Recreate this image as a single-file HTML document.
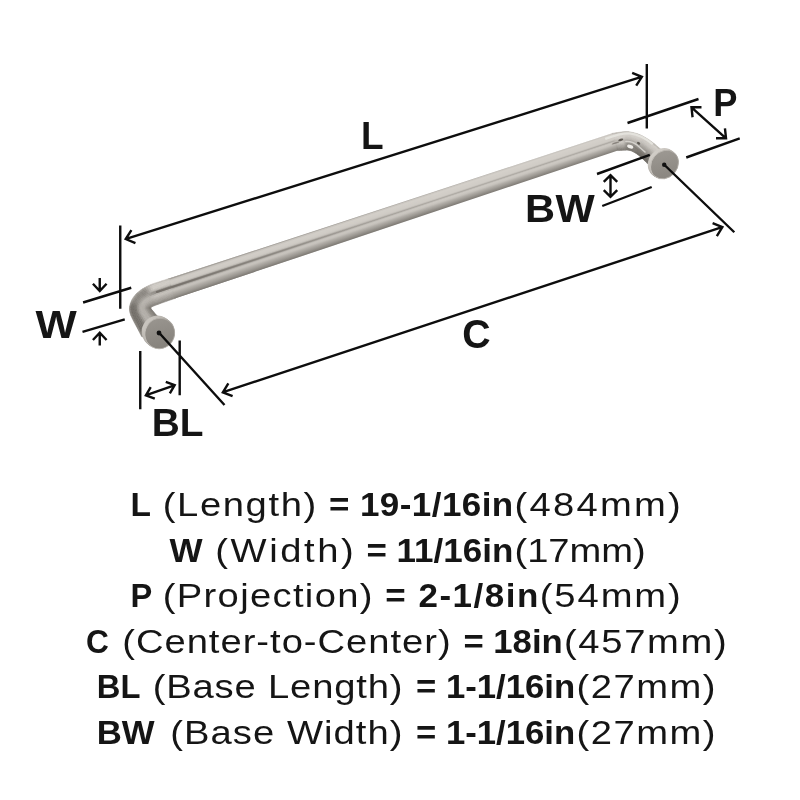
<!DOCTYPE html>
<html><head><meta charset="utf-8"><title>Dimensions</title>
<style>
html,body{margin:0;padding:0;background:#fff;}
body{width:800px;height:800px;overflow:hidden;}
svg{display:block;will-change:transform}
text{font-family:"Liberation Sans",sans-serif;fill:#151515;white-space:pre}
.b{font-weight:bold;font-size:33.5px}
.r{font-weight:normal;font-size:33.5px}
.lab{font-weight:bold;font-size:38.5px}
</style></head><body>
<svg width="800" height="800" viewBox="0 0 800 800">
<rect width="800" height="800" fill="#fff"/>
<defs><linearGradient id="gR" gradientUnits="userSpaceOnUse" x1="390" y1="206.10" x2="396.13" y2="224.61"><stop offset="0.000" stop-color="#a5a19b"/><stop offset="0.025" stop-color="#b6b2ac"/><stop offset="0.050" stop-color="#c8c4be"/><stop offset="0.075" stop-color="#ccc8c2"/><stop offset="0.100" stop-color="#d1cdc7"/><stop offset="0.125" stop-color="#d4d0ca"/><stop offset="0.150" stop-color="#d4d0ca"/><stop offset="0.175" stop-color="#d3cfc9"/><stop offset="0.200" stop-color="#d3cfc9"/><stop offset="0.225" stop-color="#d2cec8"/><stop offset="0.250" stop-color="#d2cec8"/><stop offset="0.275" stop-color="#d1cdc7"/><stop offset="0.300" stop-color="#d1cdc7"/><stop offset="0.325" stop-color="#d1cdc7"/><stop offset="0.350" stop-color="#d0ccc6"/><stop offset="0.375" stop-color="#cbc7c1"/><stop offset="0.400" stop-color="#c2beb8"/><stop offset="0.425" stop-color="#b3afa9"/><stop offset="0.450" stop-color="#aeaaa4"/><stop offset="0.475" stop-color="#bdb9b3"/><stop offset="0.500" stop-color="#c6c2bc"/><stop offset="0.525" stop-color="#cdc9c3"/><stop offset="0.550" stop-color="#ccc8c2"/><stop offset="0.575" stop-color="#cac6c0"/><stop offset="0.600" stop-color="#c8c4be"/><stop offset="0.625" stop-color="#c5c1bb"/><stop offset="0.650" stop-color="#bfbbb5"/><stop offset="0.675" stop-color="#bab6b0"/><stop offset="0.700" stop-color="#b4b0aa"/><stop offset="0.725" stop-color="#afaba5"/><stop offset="0.750" stop-color="#aba7a1"/><stop offset="0.775" stop-color="#a6a29c"/><stop offset="0.800" stop-color="#a29e98"/><stop offset="0.825" stop-color="#9d9993"/><stop offset="0.850" stop-color="#98948e"/><stop offset="0.875" stop-color="#938f89"/><stop offset="0.900" stop-color="#8e8a84"/><stop offset="0.925" stop-color="#89857f"/><stop offset="0.950" stop-color="#84807a"/><stop offset="0.975" stop-color="#7f7b75"/><stop offset="1.000" stop-color="#7a7670"/></linearGradient><linearGradient id="gL" gradientUnits="userSpaceOnUse" x1="390" y1="206.10" x2="396.13" y2="224.61"><stop offset="0.000" stop-color="#a5a19b"/><stop offset="0.025" stop-color="#b8b4ae"/><stop offset="0.050" stop-color="#c6c2bc"/><stop offset="0.075" stop-color="#c9c5bf"/><stop offset="0.100" stop-color="#cdc9c3"/><stop offset="0.125" stop-color="#d0ccc6"/><stop offset="0.150" stop-color="#cfcbc5"/><stop offset="0.175" stop-color="#cfcbc5"/><stop offset="0.200" stop-color="#cecac4"/><stop offset="0.225" stop-color="#cecac4"/><stop offset="0.250" stop-color="#cdc9c3"/><stop offset="0.275" stop-color="#ccc8c2"/><stop offset="0.300" stop-color="#c7c3bd"/><stop offset="0.325" stop-color="#bcb8b2"/><stop offset="0.350" stop-color="#b1ada7"/><stop offset="0.375" stop-color="#a09c96"/><stop offset="0.400" stop-color="#8d8983"/><stop offset="0.425" stop-color="#7a7670"/><stop offset="0.450" stop-color="#84807a"/><stop offset="0.475" stop-color="#96928c"/><stop offset="0.500" stop-color="#a8a49e"/><stop offset="0.525" stop-color="#b4b0aa"/><stop offset="0.550" stop-color="#c1bdb7"/><stop offset="0.575" stop-color="#c5c1bb"/><stop offset="0.600" stop-color="#c4c0ba"/><stop offset="0.625" stop-color="#c3bfb9"/><stop offset="0.650" stop-color="#c0bcb6"/><stop offset="0.675" stop-color="#bcb8b2"/><stop offset="0.700" stop-color="#b7b3ad"/><stop offset="0.725" stop-color="#b3afa9"/><stop offset="0.750" stop-color="#afaba5"/><stop offset="0.775" stop-color="#aba7a1"/><stop offset="0.800" stop-color="#a8a49e"/><stop offset="0.825" stop-color="#a4a09a"/><stop offset="0.850" stop-color="#a09c96"/><stop offset="0.875" stop-color="#9c9892"/><stop offset="0.900" stop-color="#98948e"/><stop offset="0.925" stop-color="#938f89"/><stop offset="0.950" stop-color="#8d8983"/><stop offset="0.975" stop-color="#88847e"/><stop offset="1.000" stop-color="#827e78"/></linearGradient><linearGradient id="gF" gradientUnits="userSpaceOnUse" x1="168" y1="0" x2="613" y2="0"><stop offset="0" stop-color="#fff"/><stop offset="0.12" stop-color="#ccc"/><stop offset="0.35" stop-color="#555"/><stop offset="0.6" stop-color="#000"/></linearGradient><mask id="mF" maskUnits="userSpaceOnUse" x="0" y="0" width="800" height="800"><rect width="800" height="800" fill="url(#gF)"/></mask></defs><polygon points="168,278.83 613,133.05 618.70,150.27 174.55,298.62" fill="url(#gR)"/><polygon points="168,278.83 613,133.05 618.70,150.27 174.55,298.62" fill="url(#gL)" mask="url(#mF)"/>
<g stroke-width="0.5">
<polygon points="169.0,278.5 166.8,279.2 167.2,280.7 169.5,279.9" fill="#c1bdb7" stroke="#c1bdb7"/><polygon points="169.5,279.9 167.2,280.7 167.7,282.1 169.9,281.3" fill="#cecac4" stroke="#cecac4"/><polygon points="169.9,281.3 167.7,282.1 168.1,283.5 170.4,282.7" fill="#cfcbc5" stroke="#cfcbc5"/><polygon points="170.4,282.7 168.1,283.5 168.6,284.9 170.9,284.2" fill="#cdc9c3" stroke="#cdc9c3"/><polygon points="170.9,284.2 168.6,284.9 169.1,286.3 171.3,285.6" fill="#bebab4" stroke="#bebab4"/><polygon points="171.3,285.6 169.1,286.3 169.5,287.7 171.8,287.0" fill="#938f89" stroke="#938f89"/><polygon points="171.8,287.0 169.5,287.7 170.0,289.1 172.3,288.4" fill="#8e8a84" stroke="#8e8a84"/><polygon points="172.3,288.4 170.0,289.1 170.5,290.6 172.7,289.8" fill="#bab6b0" stroke="#bab6b0"/><polygon points="172.7,289.8 170.5,290.6 170.9,292.0 173.2,291.2" fill="#c4c0ba" stroke="#c4c0ba"/><polygon points="173.2,291.2 170.9,292.0 171.4,293.4 173.7,292.6" fill="#bbb7b1" stroke="#bbb7b1"/><polygon points="173.7,292.6 171.4,293.4 171.9,294.8 174.1,294.0" fill="#afaba5" stroke="#afaba5"/><polygon points="174.1,294.0 171.9,294.8 172.3,296.2 174.6,295.5" fill="#a5a19b" stroke="#a5a19b"/><polygon points="174.6,295.5 172.3,296.2 172.8,297.6 175.1,296.9" fill="#99958f" stroke="#99958f"/><polygon points="175.1,296.9 172.8,297.6 173.3,299.0 175.5,298.3" fill="#8a8680" stroke="#8a8680"/><polygon points="166.8,279.2 164.5,280.0 165.0,281.4 167.2,280.7" fill="#c1bdb7" stroke="#c1bdb7"/><polygon points="167.2,280.7 165.0,281.4 165.4,282.8 167.7,282.1" fill="#cecac4" stroke="#cecac4"/><polygon points="167.7,282.1 165.4,282.8 165.9,284.2 168.1,283.5" fill="#cfcbc5" stroke="#cfcbc5"/><polygon points="168.1,283.5 165.9,284.2 166.4,285.6 168.6,284.9" fill="#cdc9c3" stroke="#cdc9c3"/><polygon points="168.6,284.9 166.4,285.6 166.8,287.1 169.1,286.3" fill="#bebab4" stroke="#bebab4"/><polygon points="169.1,286.3 166.8,287.1 167.3,288.5 169.5,287.7" fill="#938f89" stroke="#938f89"/><polygon points="169.5,287.7 167.3,288.5 167.8,289.9 170.0,289.1" fill="#8e8a84" stroke="#8e8a84"/><polygon points="170.0,289.1 167.8,289.9 168.2,291.3 170.5,290.6" fill="#bab6b0" stroke="#bab6b0"/><polygon points="170.5,290.6 168.2,291.3 168.7,292.7 170.9,292.0" fill="#c4c0ba" stroke="#c4c0ba"/><polygon points="170.9,292.0 168.7,292.7 169.1,294.1 171.4,293.4" fill="#bbb7b1" stroke="#bbb7b1"/><polygon points="171.4,293.4 169.1,294.1 169.6,295.5 171.9,294.8" fill="#afaba5" stroke="#afaba5"/><polygon points="171.9,294.8 169.6,295.5 170.1,297.0 172.3,296.2" fill="#a5a19b" stroke="#a5a19b"/><polygon points="172.3,296.2 170.1,297.0 170.5,298.4 172.8,297.6" fill="#99958f" stroke="#99958f"/><polygon points="172.8,297.6 170.5,298.4 171.0,299.8 173.3,299.0" fill="#8a8680" stroke="#8a8680"/><polygon points="164.5,280.0 162.2,280.7 162.7,282.1 165.0,281.4" fill="#c1bdb7" stroke="#c1bdb7"/><polygon points="165.0,281.4 162.7,282.1 163.2,283.5 165.4,282.8" fill="#cecac4" stroke="#cecac4"/><polygon points="165.4,282.8 163.2,283.5 163.6,285.0 165.9,284.2" fill="#cfcbc5" stroke="#cfcbc5"/><polygon points="165.9,284.2 163.6,285.0 164.1,286.4 166.4,285.6" fill="#cdc9c3" stroke="#cdc9c3"/><polygon points="166.4,285.6 164.1,286.4 164.6,287.8 166.8,287.1" fill="#bebab4" stroke="#bebab4"/><polygon points="166.8,287.1 164.6,287.8 165.0,289.2 167.3,288.5" fill="#938f89" stroke="#938f89"/><polygon points="167.3,288.5 165.0,289.2 165.5,290.6 167.8,289.9" fill="#8e8a84" stroke="#8e8a84"/><polygon points="167.8,289.9 165.5,290.6 166.0,292.0 168.2,291.3" fill="#bab6b0" stroke="#bab6b0"/><polygon points="168.2,291.3 166.0,292.0 166.4,293.5 168.7,292.7" fill="#c4c0ba" stroke="#c4c0ba"/><polygon points="168.7,292.7 166.4,293.5 166.9,294.9 169.1,294.1" fill="#bbb7b1" stroke="#bbb7b1"/><polygon points="169.1,294.1 166.9,294.9 167.4,296.3 169.6,295.5" fill="#afaba5" stroke="#afaba5"/><polygon points="169.6,295.5 167.4,296.3 167.8,297.7 170.1,297.0" fill="#a5a19b" stroke="#a5a19b"/><polygon points="170.1,297.0 167.8,297.7 168.3,299.1 170.5,298.4" fill="#99958f" stroke="#99958f"/><polygon points="170.5,298.4 168.3,299.1 168.7,300.5 171.0,299.8" fill="#8a8680" stroke="#8a8680"/><polygon points="162.2,280.7 160.0,281.5 160.5,282.9 162.7,282.1" fill="#c1bdb7" stroke="#c1bdb7"/><polygon points="162.7,282.1 160.5,282.9 160.9,284.3 163.2,283.5" fill="#cecac4" stroke="#cecac4"/><polygon points="163.2,283.5 160.9,284.3 161.4,285.7 163.6,285.0" fill="#cfcbc5" stroke="#cfcbc5"/><polygon points="163.6,285.0 161.4,285.7 161.9,287.1 164.1,286.4" fill="#cdc9c3" stroke="#cdc9c3"/><polygon points="164.1,286.4 161.9,287.1 162.3,288.5 164.6,287.8" fill="#bebab4" stroke="#bebab4"/><polygon points="164.6,287.8 162.3,288.5 162.8,290.0 165.0,289.2" fill="#938f89" stroke="#938f89"/><polygon points="165.0,289.2 162.8,290.0 163.3,291.4 165.5,290.6" fill="#8e8a84" stroke="#8e8a84"/><polygon points="165.5,290.6 163.3,291.4 163.8,292.8 166.0,292.0" fill="#bab6b0" stroke="#bab6b0"/><polygon points="166.0,292.0 163.8,292.8 164.2,294.2 166.4,293.5" fill="#c4c0ba" stroke="#c4c0ba"/><polygon points="166.4,293.5 164.2,294.2 164.7,295.6 166.9,294.9" fill="#bbb7b1" stroke="#bbb7b1"/><polygon points="166.9,294.9 164.7,295.6 165.2,297.0 167.4,296.3" fill="#afaba5" stroke="#afaba5"/><polygon points="167.4,296.3 165.2,297.0 165.6,298.5 167.8,297.7" fill="#a5a19b" stroke="#a5a19b"/><polygon points="167.8,297.7 165.6,298.5 166.1,299.9 168.3,299.1" fill="#99958f" stroke="#99958f"/><polygon points="168.3,299.1 166.1,299.9 166.6,301.3 168.7,300.5" fill="#8a8680" stroke="#8a8680"/><polygon points="160.0,281.5 157.7,282.2 158.2,283.6 160.5,282.9" fill="#c1bdb7" stroke="#c1bdb7"/><polygon points="160.5,282.9 158.2,283.6 158.7,285.0 160.9,284.3" fill="#cecac4" stroke="#cecac4"/><polygon points="160.9,284.3 158.7,285.0 159.2,286.4 161.4,285.7" fill="#cfcbc5" stroke="#cfcbc5"/><polygon points="161.4,285.7 159.2,286.4 159.6,287.9 161.9,287.1" fill="#cdc9c3" stroke="#cdc9c3"/><polygon points="161.9,287.1 159.6,287.9 160.1,289.3 162.3,288.5" fill="#bebab4" stroke="#bebab4"/><polygon points="162.3,288.5 160.1,289.3 160.6,290.7 162.8,290.0" fill="#938f89" stroke="#938f89"/><polygon points="162.8,290.0 160.6,290.7 161.1,292.1 163.3,291.4" fill="#8e8a84" stroke="#8e8a84"/><polygon points="163.3,291.4 161.1,292.1 161.5,293.5 163.8,292.8" fill="#bab6b0" stroke="#bab6b0"/><polygon points="163.8,292.8 161.5,293.5 162.0,295.0 164.2,294.2" fill="#c4c0ba" stroke="#c4c0ba"/><polygon points="164.2,294.2 162.0,295.0 162.5,296.4 164.7,295.6" fill="#bbb7b1" stroke="#bbb7b1"/><polygon points="164.7,295.6 162.5,296.4 163.0,297.8 165.2,297.0" fill="#afaba5" stroke="#afaba5"/><polygon points="165.2,297.0 163.0,297.8 163.4,299.2 165.6,298.5" fill="#a5a19b" stroke="#a5a19b"/><polygon points="165.6,298.5 163.4,299.2 163.9,300.6 166.1,299.9" fill="#99958f" stroke="#99958f"/><polygon points="166.1,299.9 163.9,300.6 164.4,302.1 166.6,301.3" fill="#8a8680" stroke="#8a8680"/><polygon points="157.7,282.2 155.4,282.9 155.9,284.3 158.2,283.6" fill="#c1bdb7" stroke="#c1bdb7"/><polygon points="158.2,283.6 155.9,284.3 156.4,285.8 158.7,285.0" fill="#cecac4" stroke="#cecac4"/><polygon points="158.7,285.0 156.4,285.8 156.9,287.2 159.2,286.4" fill="#cfcbc5" stroke="#cfcbc5"/><polygon points="159.2,286.4 156.9,287.2 157.4,288.6 159.6,287.9" fill="#cdc9c3" stroke="#cdc9c3"/><polygon points="159.6,287.9 157.4,288.6 157.9,290.0 160.1,289.3" fill="#bebab4" stroke="#bebab4"/><polygon points="160.1,289.3 157.9,290.0 158.4,291.4 160.6,290.7" fill="#938f89" stroke="#938f89"/><polygon points="160.6,290.7 158.4,291.4 158.8,292.9 161.1,292.1" fill="#8e8a84" stroke="#8e8a84"/><polygon points="161.1,292.1 158.8,292.9 159.3,294.3 161.5,293.5" fill="#bab6b0" stroke="#bab6b0"/><polygon points="161.5,293.5 159.3,294.3 159.8,295.7 162.0,295.0" fill="#c4c0ba" stroke="#c4c0ba"/><polygon points="162.0,295.0 159.8,295.7 160.3,297.1 162.5,296.4" fill="#bbb7b1" stroke="#bbb7b1"/><polygon points="162.5,296.4 160.3,297.1 160.8,298.6 163.0,297.8" fill="#afaba5" stroke="#afaba5"/><polygon points="163.0,297.8 160.8,298.6 161.3,300.0 163.4,299.2" fill="#a5a19b" stroke="#a5a19b"/><polygon points="163.4,299.2 161.3,300.0 161.8,301.4 163.9,300.6" fill="#99958f" stroke="#99958f"/><polygon points="163.9,300.6 161.8,301.4 162.3,302.8 164.4,302.1" fill="#8a8680" stroke="#8a8680"/><polygon points="155.4,282.9 153.2,283.7 153.7,285.1 155.9,284.3" fill="#c1bdb7" stroke="#c1bdb7"/><polygon points="155.9,284.3 153.7,285.1 154.2,286.5 156.4,285.8" fill="#cecac4" stroke="#cecac4"/><polygon points="156.4,285.8 154.2,286.5 154.7,287.9 156.9,287.2" fill="#cfcbc5" stroke="#cfcbc5"/><polygon points="156.9,287.2 154.7,287.9 155.2,289.3 157.4,288.6" fill="#cdc9c3" stroke="#cdc9c3"/><polygon points="157.4,288.6 155.2,289.3 155.7,290.8 157.9,290.0" fill="#bebab4" stroke="#bebab4"/><polygon points="157.9,290.0 155.7,290.8 156.2,292.2 158.4,291.4" fill="#938f89" stroke="#938f89"/><polygon points="158.4,291.4 156.2,292.2 156.7,293.6 158.8,292.9" fill="#8e8a84" stroke="#8e8a84"/><polygon points="158.8,292.9 156.7,293.6 157.2,295.0 159.3,294.3" fill="#bab6b0" stroke="#bab6b0"/><polygon points="159.3,294.3 157.2,295.0 157.7,296.5 159.8,295.7" fill="#c4c0ba" stroke="#c4c0ba"/><polygon points="159.8,295.7 157.7,296.5 158.2,297.9 160.3,297.1" fill="#bbb7b1" stroke="#bbb7b1"/><polygon points="160.3,297.1 158.2,297.9 158.7,299.3 160.8,298.6" fill="#afaba5" stroke="#afaba5"/><polygon points="160.8,298.6 158.7,299.3 159.2,300.7 161.3,300.0" fill="#a5a19b" stroke="#a5a19b"/><polygon points="161.3,300.0 159.2,300.7 159.7,302.1 161.8,301.4" fill="#99958f" stroke="#99958f"/><polygon points="161.8,301.4 159.7,302.1 160.2,303.6 162.3,302.8" fill="#8a8680" stroke="#8a8680"/><polygon points="153.2,283.7 151.0,284.5 151.5,285.9 153.7,285.1" fill="#c1bdb7" stroke="#c1bdb7"/><polygon points="153.7,285.1 151.5,285.9 152.1,287.3 154.2,286.5" fill="#cecac4" stroke="#cecac4"/><polygon points="154.2,286.5 152.1,287.3 152.6,288.7 154.7,287.9" fill="#cfcbc5" stroke="#cfcbc5"/><polygon points="154.7,287.9 152.6,288.7 153.1,290.1 155.2,289.3" fill="#cdc9c3" stroke="#cdc9c3"/><polygon points="155.2,289.3 153.1,290.1 153.7,291.5 155.7,290.8" fill="#bebab4" stroke="#bebab4"/><polygon points="155.7,290.8 153.7,291.5 154.2,292.9 156.2,292.2" fill="#938f89" stroke="#938f89"/><polygon points="156.2,292.2 154.2,292.9 154.8,294.4 156.7,293.6" fill="#8e8a84" stroke="#8e8a84"/><polygon points="156.7,293.6 154.8,294.4 155.3,295.8 157.2,295.0" fill="#bab6b0" stroke="#bab6b0"/><polygon points="157.2,295.0 155.3,295.8 155.8,297.2 157.7,296.5" fill="#c4c0ba" stroke="#c4c0ba"/><polygon points="157.7,296.5 155.8,297.2 156.4,298.6 158.2,297.9" fill="#bbb7b1" stroke="#bbb7b1"/><polygon points="158.2,297.9 156.4,298.6 156.9,300.0 158.7,299.3" fill="#afaba5" stroke="#afaba5"/><polygon points="158.7,299.3 156.9,300.0 157.4,301.4 159.2,300.7" fill="#a5a19b" stroke="#a5a19b"/><polygon points="159.2,300.7 157.4,301.4 158.0,302.8 159.7,302.1" fill="#99958f" stroke="#99958f"/><polygon points="159.7,302.1 158.0,302.8 158.5,304.2 160.2,303.6" fill="#8a8680" stroke="#8a8680"/><polygon points="151.0,284.5 148.9,285.4 149.5,286.8 151.5,285.9" fill="#bcb8b2" stroke="#bcb8b2"/><polygon points="151.5,285.9 149.5,286.8 150.1,288.2 152.1,287.3" fill="#c6c2bc" stroke="#c6c2bc"/><polygon points="152.1,287.3 150.1,288.2 150.6,289.6 152.6,288.7" fill="#c6c2bc" stroke="#c6c2bc"/><polygon points="152.6,288.7 150.6,289.6 151.2,290.9 153.1,290.1" fill="#c5c1bb" stroke="#c5c1bb"/><polygon points="153.1,290.1 151.2,290.9 151.8,292.3 153.7,291.5" fill="#b8b4ae" stroke="#b8b4ae"/><polygon points="153.7,291.5 151.8,292.3 152.4,293.7 154.2,292.9" fill="#94908a" stroke="#94908a"/><polygon points="154.2,292.9 152.4,293.7 153.0,295.1 154.8,294.4" fill="#928e88" stroke="#928e88"/><polygon points="154.8,294.4 153.0,295.1 153.6,296.4 155.3,295.8" fill="#b9b5af" stroke="#b9b5af"/><polygon points="155.3,295.8 153.6,296.4 154.2,297.8 155.8,297.2" fill="#c2beb8" stroke="#c2beb8"/><polygon points="155.8,297.2 154.2,297.8 154.7,299.2 156.4,298.6" fill="#bab6b0" stroke="#bab6b0"/><polygon points="156.4,298.6 154.7,299.2 155.3,300.6 156.9,300.0" fill="#aeaaa4" stroke="#aeaaa4"/><polygon points="156.9,300.0 155.3,300.6 155.9,302.0 157.4,301.4" fill="#a4a09a" stroke="#a4a09a"/><polygon points="157.4,301.4 155.9,302.0 156.5,303.3 158.0,302.8" fill="#98948e" stroke="#98948e"/><polygon points="158.0,302.8 156.5,303.3 157.1,304.7 158.5,304.2" fill="#8a8680" stroke="#8a8680"/><polygon points="148.9,285.4 146.8,286.4 147.5,287.8 149.5,286.8" fill="#b4b0aa" stroke="#b4b0aa"/><polygon points="149.5,286.8 147.5,287.8 148.1,289.1 150.1,288.2" fill="#b6b2ac" stroke="#b6b2ac"/><polygon points="150.1,288.2 148.1,289.1 148.8,290.4 150.6,289.6" fill="#b4b0aa" stroke="#b4b0aa"/><polygon points="150.6,289.6 148.8,290.4 149.4,291.8 151.2,290.9" fill="#b4b0aa" stroke="#b4b0aa"/><polygon points="151.2,290.9 149.4,291.8 150.1,293.1 151.8,292.3" fill="#aca8a2" stroke="#aca8a2"/><polygon points="151.8,292.3 150.1,293.1 150.7,294.4 152.4,293.7" fill="#96928c" stroke="#96928c"/><polygon points="152.4,293.7 150.7,294.4 151.4,295.8 153.0,295.1" fill="#98948e" stroke="#98948e"/><polygon points="153.0,295.1 151.4,295.8 152.0,297.1 153.6,296.4" fill="#b8b4ae" stroke="#b8b4ae"/><polygon points="153.6,296.4 152.0,297.1 152.7,298.4 154.2,297.8" fill="#bebab4" stroke="#bebab4"/><polygon points="154.2,297.8 152.7,298.4 153.3,299.8 154.7,299.2" fill="#b7b3ad" stroke="#b7b3ad"/><polygon points="154.7,299.2 153.3,299.8 153.9,301.1 155.3,300.6" fill="#aca8a2" stroke="#aca8a2"/><polygon points="155.3,300.6 153.9,301.1 154.6,302.4 155.9,302.0" fill="#a29e98" stroke="#a29e98"/><polygon points="155.9,302.0 154.6,302.4 155.2,303.8 156.5,303.3" fill="#96928c" stroke="#96928c"/><polygon points="156.5,303.3 155.2,303.8 155.9,305.1 157.1,304.7" fill="#89857f" stroke="#89857f"/><polygon points="146.8,286.4 144.9,287.5 145.6,288.8 147.5,287.8" fill="#aba7a1" stroke="#aba7a1"/><polygon points="147.5,287.8 145.6,288.8 146.3,290.1 148.1,289.1" fill="#a6a29c" stroke="#a6a29c"/><polygon points="148.1,289.1 146.3,290.1 147.0,291.3 148.8,290.4" fill="#a29e98" stroke="#a29e98"/><polygon points="148.8,290.4 147.0,291.3 147.7,292.6 149.4,291.8" fill="#a39f99" stroke="#a39f99"/><polygon points="149.4,291.8 147.7,292.6 148.4,293.9 150.1,293.1" fill="#a19d97" stroke="#a19d97"/><polygon points="150.1,293.1 148.4,293.9 149.2,295.2 150.7,294.4" fill="#98948e" stroke="#98948e"/><polygon points="150.7,294.4 149.2,295.2 149.9,296.5 151.4,295.8" fill="#9e9a94" stroke="#9e9a94"/><polygon points="151.4,295.8 149.9,296.5 150.6,297.8 152.0,297.1" fill="#b6b2ac" stroke="#b6b2ac"/><polygon points="152.0,297.1 150.6,297.8 151.3,299.0 152.7,298.4" fill="#bab6b0" stroke="#bab6b0"/><polygon points="152.7,298.4 151.3,299.0 152.0,300.3 153.3,299.8" fill="#b5b1ab" stroke="#b5b1ab"/><polygon points="153.3,299.8 152.0,300.3 152.7,301.6 153.9,301.1" fill="#aba7a1" stroke="#aba7a1"/><polygon points="153.9,301.1 152.7,301.6 153.4,302.9 154.6,302.4" fill="#a09c96" stroke="#a09c96"/><polygon points="154.6,302.4 153.4,302.9 154.2,304.2 155.2,303.8" fill="#95918b" stroke="#95918b"/><polygon points="155.2,303.8 154.2,304.2 154.9,305.5 155.9,305.1" fill="#88847e" stroke="#88847e"/><polygon points="144.9,287.5 143.0,288.6 143.8,289.8 145.6,288.8" fill="#a29e98" stroke="#a29e98"/><polygon points="145.6,288.8 143.8,289.8 144.6,291.1 146.3,290.1" fill="#96928c" stroke="#96928c"/><polygon points="146.3,290.1 144.6,291.1 145.4,292.3 147.0,291.3" fill="#918d87" stroke="#918d87"/><polygon points="147.0,291.3 145.4,292.3 146.1,293.5 147.7,292.6" fill="#938f89" stroke="#938f89"/><polygon points="147.7,292.6 146.1,293.5 146.9,294.7 148.4,293.9" fill="#95918b" stroke="#95918b"/><polygon points="148.4,293.9 146.9,294.7 147.7,296.0 149.2,295.2" fill="#9a9690" stroke="#9a9690"/><polygon points="149.2,295.2 147.7,296.0 148.5,297.2 149.9,296.5" fill="#a4a09a" stroke="#a4a09a"/><polygon points="149.9,296.5 148.5,297.2 149.3,298.4 150.6,297.8" fill="#b4b0aa" stroke="#b4b0aa"/><polygon points="150.6,297.8 149.3,298.4 150.1,299.7 151.3,299.0" fill="#b6b2ac" stroke="#b6b2ac"/><polygon points="151.3,299.0 150.1,299.7 150.9,300.9 152.0,300.3" fill="#b2aea8" stroke="#b2aea8"/><polygon points="152.0,300.3 150.9,300.9 151.6,302.1 152.7,301.6" fill="#a9a59f" stroke="#a9a59f"/><polygon points="152.7,301.6 151.6,302.1 152.4,303.3 153.4,302.9" fill="#9f9b95" stroke="#9f9b95"/><polygon points="153.4,302.9 152.4,303.3 153.2,304.6 154.2,304.2" fill="#938f89" stroke="#938f89"/><polygon points="154.2,304.2 153.2,304.6 154.0,305.8 154.9,305.5" fill="#87837d" stroke="#87837d"/><polygon points="143.0,288.6 141.2,289.8 142.1,290.9 143.8,289.8" fill="#9e9a94" stroke="#9e9a94"/><polygon points="143.8,289.8 142.1,290.9 142.9,292.1 144.6,291.1" fill="#8d8983" stroke="#8d8983"/><polygon points="144.6,291.1 142.9,292.1 143.8,293.3 145.4,292.3" fill="#88847e" stroke="#88847e"/><polygon points="145.4,292.3 143.8,293.3 144.7,294.4 146.1,293.5" fill="#8a8680" stroke="#8a8680"/><polygon points="146.1,293.5 144.7,294.4 145.5,295.6 146.9,294.7" fill="#908c86" stroke="#908c86"/><polygon points="146.9,294.7 145.5,295.6 146.4,296.8 147.7,296.0" fill="#9b9791" stroke="#9b9791"/><polygon points="147.7,296.0 146.4,296.8 147.2,297.9 148.5,297.2" fill="#a7a39d" stroke="#a7a39d"/><polygon points="148.5,297.2 147.2,297.9 148.1,299.1 149.3,298.4" fill="#b4b0aa" stroke="#b4b0aa"/><polygon points="149.3,298.4 148.1,299.1 149.0,300.3 150.1,299.7" fill="#b4b0aa" stroke="#b4b0aa"/><polygon points="150.1,299.7 149.0,300.3 149.8,301.4 150.9,300.9" fill="#b1ada7" stroke="#b1ada7"/><polygon points="150.9,300.9 149.8,301.4 150.7,302.6 151.6,302.1" fill="#a8a49e" stroke="#a8a49e"/><polygon points="151.6,302.1 150.7,302.6 151.5,303.8 152.4,303.3" fill="#9e9a94" stroke="#9e9a94"/><polygon points="152.4,303.3 151.5,303.8 152.4,304.9 153.2,304.6" fill="#928e88" stroke="#928e88"/><polygon points="153.2,304.6 152.4,304.9 153.3,306.1 154.0,305.8" fill="#86827c" stroke="#86827c"/><polygon points="141.2,289.8 139.5,291.0 140.5,292.1 142.1,290.9" fill="#9e9a94" stroke="#9e9a94"/><polygon points="142.1,290.9 140.5,292.1 141.4,293.2 142.9,292.1" fill="#8d8983" stroke="#8d8983"/><polygon points="142.9,292.1 141.4,293.2 142.4,294.3 143.8,293.3" fill="#88847e" stroke="#88847e"/><polygon points="143.8,293.3 142.4,294.3 143.3,295.4 144.7,294.4" fill="#8a8680" stroke="#8a8680"/><polygon points="144.7,294.4 143.3,295.4 144.2,296.5 145.5,295.6" fill="#908c86" stroke="#908c86"/><polygon points="145.5,295.6 144.2,296.5 145.2,297.6 146.4,296.8" fill="#9b9791" stroke="#9b9791"/><polygon points="146.4,296.8 145.2,297.6 146.1,298.7 147.2,297.9" fill="#a7a39d" stroke="#a7a39d"/><polygon points="147.2,297.9 146.1,298.7 147.1,299.8 148.1,299.1" fill="#b4b0aa" stroke="#b4b0aa"/><polygon points="148.1,299.1 147.1,299.8 148.0,300.9 149.0,300.3" fill="#b4b0aa" stroke="#b4b0aa"/><polygon points="149.0,300.3 148.0,300.9 148.9,302.0 149.8,301.4" fill="#b1ada7" stroke="#b1ada7"/><polygon points="149.8,301.4 148.9,302.0 149.9,303.1 150.7,302.6" fill="#a8a49e" stroke="#a8a49e"/><polygon points="150.7,302.6 149.9,303.1 150.8,304.2 151.5,303.8" fill="#9e9a94" stroke="#9e9a94"/><polygon points="151.5,303.8 150.8,304.2 151.7,305.3 152.4,304.9" fill="#928e88" stroke="#928e88"/><polygon points="152.4,304.9 151.7,305.3 152.7,306.4 153.3,306.1" fill="#86827c" stroke="#86827c"/><polygon points="139.5,291.0 138.0,292.2 139.0,293.3 140.5,292.1" fill="#9e9a94" stroke="#9e9a94"/><polygon points="140.5,292.1 139.0,293.3 140.0,294.3 141.4,293.2" fill="#8d8983" stroke="#8d8983"/><polygon points="141.4,293.2 140.0,294.3 141.0,295.3 142.4,294.3" fill="#88847e" stroke="#88847e"/><polygon points="142.4,294.3 141.0,295.3 142.0,296.3 143.3,295.4" fill="#8a8680" stroke="#8a8680"/><polygon points="143.3,295.4 142.0,296.3 143.1,297.4 144.2,296.5" fill="#908c86" stroke="#908c86"/><polygon points="144.2,296.5 143.1,297.4 144.1,298.4 145.2,297.6" fill="#9b9791" stroke="#9b9791"/><polygon points="145.2,297.6 144.1,298.4 145.1,299.4 146.1,298.7" fill="#a7a39d" stroke="#a7a39d"/><polygon points="146.1,298.7 145.1,299.4 146.1,300.4 147.1,299.8" fill="#b4b0aa" stroke="#b4b0aa"/><polygon points="147.1,299.8 146.1,300.4 147.1,301.5 148.0,300.9" fill="#b4b0aa" stroke="#b4b0aa"/><polygon points="148.0,300.9 147.1,301.5 148.1,302.5 148.9,302.0" fill="#b1ada7" stroke="#b1ada7"/><polygon points="148.9,302.0 148.1,302.5 149.2,303.5 149.9,303.1" fill="#a8a49e" stroke="#a8a49e"/><polygon points="149.9,303.1 149.2,303.5 150.2,304.5 150.8,304.2" fill="#9e9a94" stroke="#9e9a94"/><polygon points="150.8,304.2 150.2,304.5 151.2,305.6 151.7,305.3" fill="#928e88" stroke="#928e88"/><polygon points="151.7,305.3 151.2,305.6 152.2,306.6 152.7,306.4" fill="#86827c" stroke="#86827c"/><polygon points="138.0,292.2 136.5,293.6 137.6,294.5 139.0,293.3" fill="#9e9a94" stroke="#9e9a94"/><polygon points="139.0,293.3 137.6,294.5 138.7,295.5 140.0,294.3" fill="#8d8983" stroke="#8d8983"/><polygon points="140.0,294.3 138.7,295.5 139.8,296.4 141.0,295.3" fill="#88847e" stroke="#88847e"/><polygon points="141.0,295.3 139.8,296.4 140.9,297.4 142.0,296.3" fill="#8a8680" stroke="#8a8680"/><polygon points="142.0,296.3 140.9,297.4 142.0,298.3 143.1,297.4" fill="#908c86" stroke="#908c86"/><polygon points="143.1,297.4 142.0,298.3 143.1,299.3 144.1,298.4" fill="#9b9791" stroke="#9b9791"/><polygon points="144.1,298.4 143.1,299.3 144.2,300.2 145.1,299.4" fill="#a7a39d" stroke="#a7a39d"/><polygon points="145.1,299.4 144.2,300.2 145.2,301.1 146.1,300.4" fill="#b4b0aa" stroke="#b4b0aa"/><polygon points="146.1,300.4 145.2,301.1 146.3,302.1 147.1,301.5" fill="#b4b0aa" stroke="#b4b0aa"/><polygon points="147.1,301.5 146.3,302.1 147.4,303.0 148.1,302.5" fill="#b1ada7" stroke="#b1ada7"/><polygon points="148.1,302.5 147.4,303.0 148.5,304.0 149.2,303.5" fill="#a8a49e" stroke="#a8a49e"/><polygon points="149.2,303.5 148.5,304.0 149.6,304.9 150.2,304.5" fill="#9e9a94" stroke="#9e9a94"/><polygon points="150.2,304.5 149.6,304.9 150.7,305.9 151.2,305.6" fill="#928e88" stroke="#928e88"/><polygon points="151.2,305.6 150.7,305.9 151.8,306.8 152.2,306.6" fill="#86827c" stroke="#86827c"/><polygon points="136.5,293.6 135.1,295.1 136.3,295.9 137.6,294.5" fill="#9e9a94" stroke="#9e9a94"/><polygon points="137.6,294.5 136.3,295.9 137.5,296.8 138.7,295.5" fill="#8d8983" stroke="#8d8983"/><polygon points="138.7,295.5 137.5,296.8 138.6,297.6 139.8,296.4" fill="#88847e" stroke="#88847e"/><polygon points="139.8,296.4 138.6,297.6 139.8,298.5 140.9,297.4" fill="#8a8680" stroke="#8a8680"/><polygon points="140.9,297.4 139.8,298.5 141.0,299.3 142.0,298.3" fill="#908c86" stroke="#908c86"/><polygon points="142.0,298.3 141.0,299.3 142.1,300.2 143.1,299.3" fill="#9b9791" stroke="#9b9791"/><polygon points="143.1,299.3 142.1,300.2 143.3,301.0 144.2,300.2" fill="#a7a39d" stroke="#a7a39d"/><polygon points="144.2,300.2 143.3,301.0 144.5,301.9 145.2,301.1" fill="#b4b0aa" stroke="#b4b0aa"/><polygon points="145.2,301.1 144.5,301.9 145.6,302.8 146.3,302.1" fill="#b4b0aa" stroke="#b4b0aa"/><polygon points="146.3,302.1 145.6,302.8 146.8,303.6 147.4,303.0" fill="#b1ada7" stroke="#b1ada7"/><polygon points="147.4,303.0 146.8,303.6 147.9,304.5 148.5,304.0" fill="#a8a49e" stroke="#a8a49e"/><polygon points="148.5,304.0 147.9,304.5 149.1,305.3 149.6,304.9" fill="#9e9a94" stroke="#9e9a94"/><polygon points="149.6,304.9 149.1,305.3 150.3,306.2 150.7,305.9" fill="#928e88" stroke="#928e88"/><polygon points="150.7,305.9 150.3,306.2 151.4,307.0 151.8,306.8" fill="#86827c" stroke="#86827c"/><polygon points="135.1,295.1 133.9,296.7 135.1,297.4 136.3,295.9" fill="#9e9a94" stroke="#9e9a94"/><polygon points="136.3,295.9 135.1,297.4 136.3,298.2 137.5,296.8" fill="#8d8983" stroke="#8d8983"/><polygon points="137.5,296.8 136.3,298.2 137.6,298.9 138.6,297.6" fill="#88847e" stroke="#88847e"/><polygon points="138.6,297.6 137.6,298.9 138.8,299.7 139.8,298.5" fill="#8a8680" stroke="#8a8680"/><polygon points="139.8,298.5 138.8,299.7 140.0,300.4 141.0,299.3" fill="#908c86" stroke="#908c86"/><polygon points="141.0,299.3 140.0,300.4 141.3,301.2 142.1,300.2" fill="#9b9791" stroke="#9b9791"/><polygon points="142.1,300.2 141.3,301.2 142.5,301.9 143.3,301.0" fill="#a7a39d" stroke="#a7a39d"/><polygon points="143.3,301.0 142.5,301.9 143.7,302.7 144.5,301.9" fill="#b4b0aa" stroke="#b4b0aa"/><polygon points="144.5,301.9 143.7,302.7 145.0,303.4 145.6,302.8" fill="#b4b0aa" stroke="#b4b0aa"/><polygon points="145.6,302.8 145.0,303.4 146.2,304.2 146.8,303.6" fill="#b1ada7" stroke="#b1ada7"/><polygon points="146.8,303.6 146.2,304.2 147.4,304.9 147.9,304.5" fill="#a8a49e" stroke="#a8a49e"/><polygon points="147.9,304.5 147.4,304.9 148.7,305.7 149.1,305.3" fill="#9e9a94" stroke="#9e9a94"/><polygon points="149.1,305.3 148.7,305.7 149.9,306.4 150.3,306.2" fill="#928e88" stroke="#928e88"/><polygon points="150.3,306.2 149.9,306.4 151.2,307.2 151.4,307.0" fill="#86827c" stroke="#86827c"/><polygon points="133.9,296.7 132.8,298.3 134.1,299.0 135.1,297.4" fill="#9e9a94" stroke="#9e9a94"/><polygon points="135.1,297.4 134.1,299.0 135.4,299.6 136.3,298.2" fill="#8d8983" stroke="#8d8983"/><polygon points="136.3,298.2 135.4,299.6 136.7,300.3 137.6,298.9" fill="#88847e" stroke="#88847e"/><polygon points="137.6,298.9 136.7,300.3 138.0,300.9 138.8,299.7" fill="#8a8680" stroke="#8a8680"/><polygon points="138.8,299.7 138.0,300.9 139.3,301.6 140.0,300.4" fill="#908c86" stroke="#908c86"/><polygon points="140.0,300.4 139.3,301.6 140.5,302.2 141.3,301.2" fill="#9b9791" stroke="#9b9791"/><polygon points="141.3,301.2 140.5,302.2 141.8,302.9 142.5,301.9" fill="#a7a39d" stroke="#a7a39d"/><polygon points="142.5,301.9 141.8,302.9 143.1,303.5 143.7,302.7" fill="#b4b0aa" stroke="#b4b0aa"/><polygon points="143.7,302.7 143.1,303.5 144.4,304.2 145.0,303.4" fill="#b4b0aa" stroke="#b4b0aa"/><polygon points="145.0,303.4 144.4,304.2 145.7,304.8 146.2,304.2" fill="#b1ada7" stroke="#b1ada7"/><polygon points="146.2,304.2 145.7,304.8 147.0,305.4 147.4,304.9" fill="#a8a49e" stroke="#a8a49e"/><polygon points="147.4,304.9 147.0,305.4 148.3,306.1 148.7,305.7" fill="#9e9a94" stroke="#9e9a94"/><polygon points="148.7,305.7 148.3,306.1 149.6,306.7 149.9,306.4" fill="#928e88" stroke="#928e88"/><polygon points="149.9,306.4 149.6,306.7 150.9,307.4 151.2,307.2" fill="#86827c" stroke="#86827c"/><polygon points="132.8,298.3 131.8,300.0 133.2,300.5 134.1,299.0" fill="#9e9a94" stroke="#9e9a94"/><polygon points="134.1,299.0 133.2,300.5 134.5,301.1 135.4,299.6" fill="#8d8983" stroke="#8d8983"/><polygon points="135.4,299.6 134.5,301.1 135.9,301.6 136.7,300.3" fill="#88847e" stroke="#88847e"/><polygon points="136.7,300.3 135.9,301.6 137.2,302.2 138.0,300.9" fill="#8a8680" stroke="#8a8680"/><polygon points="138.0,300.9 137.2,302.2 138.6,302.7 139.3,301.6" fill="#908c86" stroke="#908c86"/><polygon points="139.3,301.6 138.6,302.7 139.9,303.3 140.5,302.2" fill="#9b9791" stroke="#9b9791"/><polygon points="140.5,302.2 139.9,303.3 141.3,303.8 141.8,302.9" fill="#a7a39d" stroke="#a7a39d"/><polygon points="141.8,302.9 141.3,303.8 142.7,304.3 143.1,303.5" fill="#b4b0aa" stroke="#b4b0aa"/><polygon points="143.1,303.5 142.7,304.3 144.0,304.9 144.4,304.2" fill="#b4b0aa" stroke="#b4b0aa"/><polygon points="144.4,304.2 144.0,304.9 145.4,305.4 145.7,304.8" fill="#b1ada7" stroke="#b1ada7"/><polygon points="145.7,304.8 145.4,305.4 146.7,306.0 147.0,305.4" fill="#a8a49e" stroke="#a8a49e"/><polygon points="147.0,305.4 146.7,306.0 148.1,306.5 148.3,306.1" fill="#9e9a94" stroke="#9e9a94"/><polygon points="148.3,306.1 148.1,306.5 149.4,307.1 149.6,306.7" fill="#928e88" stroke="#928e88"/><polygon points="149.6,306.7 149.4,307.1 150.8,307.6 150.9,307.4" fill="#86827c" stroke="#86827c"/><polygon points="131.8,300.0 131.0,301.7 132.4,302.2 133.2,300.5" fill="#9b9791" stroke="#9b9791"/><polygon points="133.2,300.5 132.4,302.2 133.8,302.6 134.5,301.1" fill="#8a8680" stroke="#8a8680"/><polygon points="134.5,301.1 133.8,302.6 135.2,303.0 135.9,301.6" fill="#85817b" stroke="#85817b"/><polygon points="135.9,301.6 135.2,303.0 136.6,303.5 137.2,302.2" fill="#88847e" stroke="#88847e"/><polygon points="137.2,302.2 136.6,303.5 138.1,303.9 138.6,302.7" fill="#8d8983" stroke="#8d8983"/><polygon points="138.6,302.7 138.1,303.9 139.5,304.3 139.9,303.3" fill="#9b9791" stroke="#9b9791"/><polygon points="139.9,303.3 139.5,304.3 140.9,304.8 141.3,303.8" fill="#a8a49e" stroke="#a8a49e"/><polygon points="141.3,303.8 140.9,304.8 142.3,305.2 142.7,304.3" fill="#b3afa9" stroke="#b3afa9"/><polygon points="142.7,304.3 142.3,305.2 143.7,305.6 144.0,304.9" fill="#b3afa9" stroke="#b3afa9"/><polygon points="144.0,304.9 143.7,305.6 145.1,306.1 145.4,305.4" fill="#b1ada7" stroke="#b1ada7"/><polygon points="145.4,305.4 145.1,306.1 146.5,306.5 146.7,306.0" fill="#a8a49e" stroke="#a8a49e"/><polygon points="146.7,306.0 146.5,306.5 147.9,306.9 148.1,306.5" fill="#9c9892" stroke="#9c9892"/><polygon points="148.1,306.5 147.9,306.9 149.3,307.4 149.4,307.1" fill="#918d87" stroke="#918d87"/><polygon points="149.4,307.1 149.3,307.4 150.7,307.8 150.8,307.6" fill="#85817b" stroke="#85817b"/><polygon points="131.0,301.7 130.4,303.5 131.8,303.8 132.4,302.2" fill="#95918b" stroke="#95918b"/><polygon points="132.4,302.2 131.8,303.8 133.3,304.1 133.8,302.6" fill="#827e78" stroke="#827e78"/><polygon points="133.8,302.6 133.3,304.1 134.7,304.5 135.2,303.0" fill="#807c76" stroke="#807c76"/><polygon points="135.2,303.0 134.7,304.5 136.2,304.8 136.6,303.5" fill="#827e78" stroke="#827e78"/><polygon points="136.6,303.5 136.2,304.8 137.6,305.1 138.1,303.9" fill="#89857f" stroke="#89857f"/><polygon points="138.1,303.9 137.6,305.1 139.1,305.4 139.5,304.3" fill="#99958f" stroke="#99958f"/><polygon points="139.5,304.3 139.1,305.4 140.6,305.8 140.9,304.8" fill="#a8a49e" stroke="#a8a49e"/><polygon points="140.9,304.8 140.6,305.8 142.0,306.1 142.3,305.2" fill="#b3afa9" stroke="#b3afa9"/><polygon points="142.3,305.2 142.0,306.1 143.5,306.4 143.7,305.6" fill="#b3afa9" stroke="#b3afa9"/><polygon points="143.7,305.6 143.5,306.4 144.9,306.7 145.1,306.1" fill="#b1ada7" stroke="#b1ada7"/><polygon points="145.1,306.1 144.9,306.7 146.4,307.1 146.5,306.5" fill="#a6a29c" stroke="#a6a29c"/><polygon points="146.5,306.5 146.4,307.1 147.8,307.4 147.9,306.9" fill="#9a9690" stroke="#9a9690"/><polygon points="147.9,306.9 147.8,307.4 149.3,307.7 149.3,307.4" fill="#8e8a84" stroke="#8e8a84"/><polygon points="149.3,307.4 149.3,307.7 150.7,308.0 150.7,307.8" fill="#837f79" stroke="#837f79"/><polygon points="130.4,303.5 129.9,305.3 131.4,305.5 131.8,303.8" fill="#8f8b85" stroke="#8f8b85"/><polygon points="131.8,303.8 131.4,305.5 132.9,305.7 133.3,304.1" fill="#7b7771" stroke="#7b7771"/><polygon points="133.3,304.1 132.9,305.7 134.4,305.9 134.7,304.5" fill="#7a7670" stroke="#7a7670"/><polygon points="134.7,304.5 134.4,305.9 135.9,306.1 136.2,304.8" fill="#7d7973" stroke="#7d7973"/><polygon points="136.2,304.8 135.9,306.1 137.4,306.3 137.6,305.1" fill="#84807a" stroke="#84807a"/><polygon points="137.6,305.1 137.4,306.3 138.9,306.6 139.1,305.4" fill="#97938d" stroke="#97938d"/><polygon points="139.1,305.4 138.9,306.6 140.4,306.8 140.6,305.8" fill="#a8a49e" stroke="#a8a49e"/><polygon points="140.6,305.8 140.4,306.8 141.9,307.0 142.0,306.1" fill="#b2aea8" stroke="#b2aea8"/><polygon points="142.0,306.1 141.9,307.0 143.3,307.2 143.5,306.4" fill="#b2aea8" stroke="#b2aea8"/><polygon points="143.5,306.4 143.3,307.2 144.8,307.4 144.9,306.7" fill="#b0aca6" stroke="#b0aca6"/><polygon points="144.9,306.7 144.8,307.4 146.3,307.6 146.4,307.1" fill="#a5a19b" stroke="#a5a19b"/><polygon points="146.4,307.1 146.3,307.6 147.8,307.8 147.8,307.4" fill="#97938d" stroke="#97938d"/><polygon points="147.8,307.4 147.8,307.8 149.3,308.1 149.3,307.7" fill="#8c8882" stroke="#8c8882"/><polygon points="149.3,307.7 149.3,308.1 150.8,308.3 150.7,308.0" fill="#817d77" stroke="#817d77"/><polygon points="129.9,305.3 129.6,307.0 131.1,307.1 131.4,305.5" fill="#89857f" stroke="#89857f"/><polygon points="131.4,305.5 131.1,307.1 132.7,307.2 132.9,305.7" fill="#74706a" stroke="#74706a"/><polygon points="132.9,305.7 132.7,307.2 134.2,307.3 134.4,305.9" fill="#75716b" stroke="#75716b"/><polygon points="134.4,305.9 134.2,307.3 135.7,307.5 135.9,306.1" fill="#77736d" stroke="#77736d"/><polygon points="135.9,306.1 135.7,307.5 137.2,307.6 137.4,306.3" fill="#7f7b75" stroke="#7f7b75"/><polygon points="137.4,306.3 137.2,307.6 138.8,307.7 138.9,306.6" fill="#95918b" stroke="#95918b"/><polygon points="138.9,306.6 138.8,307.7 140.3,307.8 140.4,306.8" fill="#a8a49e" stroke="#a8a49e"/><polygon points="140.4,306.8 140.3,307.8 141.8,307.9 141.9,307.0" fill="#b2aea8" stroke="#b2aea8"/><polygon points="141.9,307.0 141.8,307.9 143.4,308.0 143.3,307.2" fill="#b1ada7" stroke="#b1ada7"/><polygon points="143.3,307.2 143.4,308.0 144.9,308.1 144.8,307.4" fill="#b0aca6" stroke="#b0aca6"/><polygon points="144.8,307.4 144.9,308.1 146.4,308.3 146.3,307.6" fill="#a4a09a" stroke="#a4a09a"/><polygon points="146.3,307.6 146.4,308.3 147.9,308.4 147.8,307.8" fill="#94908a" stroke="#94908a"/><polygon points="147.8,307.8 147.9,308.4 149.5,308.5 149.3,308.1" fill="#89857f" stroke="#89857f"/><polygon points="149.3,308.1 149.5,308.5 151.0,308.6 150.8,308.3" fill="#7e7a74" stroke="#7e7a74"/><polygon points="129.6,307.0 129.5,308.7 131.1,308.7 131.1,307.1" fill="#86827c" stroke="#86827c"/><polygon points="131.1,307.1 131.1,308.7 132.6,308.7 132.7,307.2" fill="#706c66" stroke="#706c66"/><polygon points="132.7,307.2 132.6,308.7 134.2,308.7 134.2,307.3" fill="#726e68" stroke="#726e68"/><polygon points="134.2,307.3 134.2,308.7 135.7,308.8 135.7,307.5" fill="#74706a" stroke="#74706a"/><polygon points="135.7,307.5 135.7,308.8 137.3,308.8 137.2,307.6" fill="#7d7973" stroke="#7d7973"/><polygon points="137.2,307.6 137.3,308.8 138.8,308.8 138.8,307.7" fill="#94908a" stroke="#94908a"/><polygon points="138.8,307.7 138.8,308.8 140.4,308.8 140.3,307.8" fill="#a8a49e" stroke="#a8a49e"/><polygon points="140.3,307.8 140.4,308.8 141.9,308.8 141.8,307.9" fill="#b2aea8" stroke="#b2aea8"/><polygon points="141.8,307.9 141.9,308.8 143.5,308.9 143.4,308.0" fill="#b1ada7" stroke="#b1ada7"/><polygon points="143.4,308.0 143.5,308.9 145.0,308.9 144.9,308.1" fill="#b0aca6" stroke="#b0aca6"/><polygon points="144.9,308.1 145.0,308.9 146.6,308.9 146.4,308.3" fill="#a39f99" stroke="#a39f99"/><polygon points="146.4,308.3 146.6,308.9 148.2,308.9 147.9,308.4" fill="#938f89" stroke="#938f89"/><polygon points="147.9,308.4 148.2,308.9 149.7,309.0 149.5,308.5" fill="#88847e" stroke="#88847e"/><polygon points="149.5,308.5 149.7,309.0 151.3,309.0 151.0,308.6" fill="#7d7973" stroke="#7d7973"/><polygon points="129.5,308.7 129.6,310.3 131.2,310.2 131.1,308.7" fill="#86827c" stroke="#86827c"/><polygon points="131.1,308.7 131.2,310.2 132.7,310.2 132.6,308.7" fill="#706c66" stroke="#706c66"/><polygon points="132.6,308.7 132.7,310.2 134.3,310.1 134.2,308.7" fill="#726e68" stroke="#726e68"/><polygon points="134.2,308.7 134.3,310.1 135.9,310.0 135.7,308.8" fill="#74706a" stroke="#74706a"/><polygon points="135.7,308.8 135.9,310.0 137.4,310.0 137.3,308.8" fill="#7d7973" stroke="#7d7973"/><polygon points="137.3,308.8 137.4,310.0 139.0,309.9 138.8,308.8" fill="#94908a" stroke="#94908a"/><polygon points="138.8,308.8 139.0,309.9 140.6,309.9 140.4,308.8" fill="#a8a49e" stroke="#a8a49e"/><polygon points="140.4,308.8 140.6,309.9 142.2,309.8 141.9,308.8" fill="#b2aea8" stroke="#b2aea8"/><polygon points="141.9,308.8 142.2,309.8 143.7,309.7 143.5,308.9" fill="#b1ada7" stroke="#b1ada7"/><polygon points="143.5,308.9 143.7,309.7 145.3,309.7 145.0,308.9" fill="#b0aca6" stroke="#b0aca6"/><polygon points="145.0,308.9 145.3,309.7 146.9,309.6 146.6,308.9" fill="#a39f99" stroke="#a39f99"/><polygon points="146.6,308.9 146.9,309.6 148.5,309.5 148.2,308.9" fill="#938f89" stroke="#938f89"/><polygon points="148.2,308.9 148.5,309.5 150.0,309.5 149.7,309.0" fill="#88847e" stroke="#88847e"/><polygon points="149.7,309.0 150.0,309.5 151.6,309.4 151.3,309.0" fill="#7d7973" stroke="#7d7973"/><polygon points="129.6,310.3 129.8,311.9 131.4,311.7 131.2,310.2" fill="#86827c" stroke="#86827c"/><polygon points="131.2,310.2 131.4,311.7 133.0,311.6 132.7,310.2" fill="#706c66" stroke="#706c66"/><polygon points="132.7,310.2 133.0,311.6 134.6,311.5 134.3,310.1" fill="#726e68" stroke="#726e68"/><polygon points="134.3,310.1 134.6,311.5 136.2,311.3 135.9,310.0" fill="#74706a" stroke="#74706a"/><polygon points="135.9,310.0 136.2,311.3 137.8,311.2 137.4,310.0" fill="#7d7973" stroke="#7d7973"/><polygon points="137.4,310.0 137.8,311.2 139.3,311.1 139.0,309.9" fill="#94908a" stroke="#94908a"/><polygon points="139.0,309.9 139.3,311.1 140.9,310.9 140.6,309.9" fill="#a8a49e" stroke="#a8a49e"/><polygon points="140.6,309.9 140.9,310.9 142.5,310.8 142.2,309.8" fill="#b2aea8" stroke="#b2aea8"/><polygon points="142.2,309.8 142.5,310.8 144.1,310.6 143.7,309.7" fill="#b1ada7" stroke="#b1ada7"/><polygon points="143.7,309.7 144.1,310.6 145.7,310.5 145.3,309.7" fill="#b0aca6" stroke="#b0aca6"/><polygon points="145.3,309.7 145.7,310.5 147.3,310.4 146.9,309.6" fill="#a39f99" stroke="#a39f99"/><polygon points="146.9,309.6 147.3,310.4 148.9,310.2 148.5,309.5" fill="#938f89" stroke="#938f89"/><polygon points="148.5,309.5 148.9,310.2 150.5,310.1 150.0,309.5" fill="#88847e" stroke="#88847e"/><polygon points="150.0,309.5 150.5,310.1 152.0,309.9 151.6,309.4" fill="#7d7973" stroke="#7d7973"/><polygon points="129.8,311.9 130.2,313.5 131.8,313.3 131.4,311.7" fill="#86827c" stroke="#86827c"/><polygon points="131.4,311.7 131.8,313.3 133.4,313.1 133.0,311.6" fill="#706c66" stroke="#706c66"/><polygon points="133.0,311.6 133.4,313.1 135.0,312.9 134.6,311.5" fill="#726e68" stroke="#726e68"/><polygon points="134.6,311.5 135.0,312.9 136.6,312.7 136.2,311.3" fill="#74706a" stroke="#74706a"/><polygon points="136.2,311.3 136.6,312.7 138.2,312.5 137.8,311.2" fill="#7d7973" stroke="#7d7973"/><polygon points="137.8,311.2 138.2,312.5 139.8,312.3 139.3,311.1" fill="#94908a" stroke="#94908a"/><polygon points="139.3,311.1 139.8,312.3 141.4,312.1 140.9,310.9" fill="#a8a49e" stroke="#a8a49e"/><polygon points="140.9,310.9 141.4,312.1 143.0,311.8 142.5,310.8" fill="#b2aea8" stroke="#b2aea8"/><polygon points="142.5,310.8 143.0,311.8 144.6,311.6 144.1,310.6" fill="#b1ada7" stroke="#b1ada7"/><polygon points="144.1,310.6 144.6,311.6 146.2,311.4 145.7,310.5" fill="#b0aca6" stroke="#b0aca6"/><polygon points="145.7,310.5 146.2,311.4 147.8,311.2 147.3,310.4" fill="#a39f99" stroke="#a39f99"/><polygon points="147.3,310.4 147.8,311.2 149.4,311.0 148.9,310.2" fill="#938f89" stroke="#938f89"/><polygon points="148.9,310.2 149.4,311.0 151.0,310.8 150.5,310.1" fill="#88847e" stroke="#88847e"/><polygon points="150.5,310.1 151.0,310.8 152.6,310.6 152.0,309.9" fill="#7d7973" stroke="#7d7973"/><polygon points="130.2,313.5 130.7,315.1 132.3,314.8 131.8,313.3" fill="#86827c" stroke="#86827c"/><polygon points="131.8,313.3 132.3,314.8 133.9,314.6 133.4,313.1" fill="#706c66" stroke="#706c66"/><polygon points="133.4,313.1 133.9,314.6 135.5,314.3 135.0,312.9" fill="#726e68" stroke="#726e68"/><polygon points="135.0,312.9 135.5,314.3 137.2,314.0 136.6,312.7" fill="#74706a" stroke="#74706a"/><polygon points="136.6,312.7 137.2,314.0 138.8,313.8 138.2,312.5" fill="#7d7973" stroke="#7d7973"/><polygon points="138.2,312.5 138.8,313.8 140.4,313.5 139.8,312.3" fill="#94908a" stroke="#94908a"/><polygon points="139.8,312.3 140.4,313.5 142.0,313.2 141.4,312.1" fill="#a8a49e" stroke="#a8a49e"/><polygon points="141.4,312.1 142.0,313.2 143.6,313.0 143.0,311.8" fill="#b2aea8" stroke="#b2aea8"/><polygon points="143.0,311.8 143.6,313.0 145.2,312.7 144.6,311.6" fill="#b1ada7" stroke="#b1ada7"/><polygon points="144.6,311.6 145.2,312.7 146.8,312.5 146.2,311.4" fill="#b0aca6" stroke="#b0aca6"/><polygon points="146.2,311.4 146.8,312.5 148.4,312.2 147.8,311.2" fill="#a39f99" stroke="#a39f99"/><polygon points="147.8,311.2 148.4,312.2 150.1,311.9 149.4,311.0" fill="#938f89" stroke="#938f89"/><polygon points="149.4,311.0 150.1,311.9 151.7,311.7 151.0,310.8" fill="#88847e" stroke="#88847e"/><polygon points="151.0,310.8 151.7,311.7 153.3,311.4 152.6,310.6" fill="#7d7973" stroke="#7d7973"/><polygon points="130.7,315.1 131.4,316.6 133.0,316.3 132.3,314.8" fill="#86827c" stroke="#86827c"/><polygon points="132.3,314.8 133.0,316.3 134.6,316.0 133.9,314.6" fill="#706c66" stroke="#706c66"/><polygon points="133.9,314.6 134.6,316.0 136.2,315.7 135.5,314.3" fill="#726e68" stroke="#726e68"/><polygon points="135.5,314.3 136.2,315.7 137.9,315.4 137.2,314.0" fill="#74706a" stroke="#74706a"/><polygon points="137.2,314.0 137.9,315.4 139.5,315.1 138.8,313.8" fill="#7d7973" stroke="#7d7973"/><polygon points="138.8,313.8 139.5,315.1 141.1,314.8 140.4,313.5" fill="#94908a" stroke="#94908a"/><polygon points="140.4,313.5 141.1,314.8 142.7,314.5 142.0,313.2" fill="#a8a49e" stroke="#a8a49e"/><polygon points="142.0,313.2 142.7,314.5 144.3,314.2 143.6,313.0" fill="#b2aea8" stroke="#b2aea8"/><polygon points="143.6,313.0 144.3,314.2 146.0,313.9 145.2,312.7" fill="#b1ada7" stroke="#b1ada7"/><polygon points="145.2,312.7 146.0,313.9 147.6,313.6 146.8,312.5" fill="#b0aca6" stroke="#b0aca6"/><polygon points="146.8,312.5 147.6,313.6 149.2,313.3 148.4,312.2" fill="#a39f99" stroke="#a39f99"/><polygon points="148.4,312.2 149.2,313.3 150.8,312.9 150.1,311.9" fill="#938f89" stroke="#938f89"/><polygon points="150.1,311.9 150.8,312.9 152.5,312.6 151.7,311.7" fill="#88847e" stroke="#88847e"/><polygon points="151.7,311.7 152.5,312.6 154.1,312.3 153.3,311.4" fill="#7d7973" stroke="#7d7973"/><polygon points="131.4,316.6 132.1,318.2 133.8,317.9 133.0,316.3" fill="#86827c" stroke="#86827c"/><polygon points="133.0,316.3 133.8,317.9 135.4,317.5 134.6,316.0" fill="#706c66" stroke="#706c66"/><polygon points="134.6,316.0 135.4,317.5 137.0,317.2 136.2,315.7" fill="#726e68" stroke="#726e68"/><polygon points="136.2,315.7 137.0,317.2 138.7,316.8 137.9,315.4" fill="#74706a" stroke="#74706a"/><polygon points="137.9,315.4 138.7,316.8 140.3,316.5 139.5,315.1" fill="#7d7973" stroke="#7d7973"/><polygon points="139.5,315.1 140.3,316.5 141.9,316.1 141.1,314.8" fill="#94908a" stroke="#94908a"/><polygon points="141.1,314.8 141.9,316.1 143.6,315.8 142.7,314.5" fill="#a8a49e" stroke="#a8a49e"/><polygon points="142.7,314.5 143.6,315.8 145.2,315.5 144.3,314.2" fill="#b2aea8" stroke="#b2aea8"/><polygon points="144.3,314.2 145.2,315.5 146.8,315.1 146.0,313.9" fill="#b1ada7" stroke="#b1ada7"/><polygon points="146.0,313.9 146.8,315.1 148.5,314.8 147.6,313.6" fill="#b0aca6" stroke="#b0aca6"/><polygon points="147.6,313.6 148.5,314.8 150.1,314.4 149.2,313.3" fill="#a39f99" stroke="#a39f99"/><polygon points="149.2,313.3 150.1,314.4 151.7,314.1 150.8,312.9" fill="#938f89" stroke="#938f89"/><polygon points="150.8,312.9 151.7,314.1 153.4,313.7 152.5,312.6" fill="#88847e" stroke="#88847e"/><polygon points="152.5,312.6 153.4,313.7 155.0,313.4 154.1,312.3" fill="#7d7973" stroke="#7d7973"/><polygon points="132.1,318.2 133.0,320.0 134.6,319.6 133.8,317.9" fill="#86827c" stroke="#86827c"/><polygon points="133.8,317.9 134.6,319.6 136.3,319.2 135.4,317.5" fill="#706c66" stroke="#706c66"/><polygon points="135.4,317.5 136.3,319.2 137.9,318.8 137.0,317.2" fill="#726e68" stroke="#726e68"/><polygon points="137.0,317.2 137.9,318.8 139.6,318.4 138.7,316.8" fill="#74706a" stroke="#74706a"/><polygon points="138.7,316.8 139.6,318.4 141.2,318.0 140.3,316.5" fill="#7d7973" stroke="#7d7973"/><polygon points="140.3,316.5 141.2,318.0 142.9,317.6 141.9,316.1" fill="#94908a" stroke="#94908a"/><polygon points="141.9,316.1 142.9,317.6 144.5,317.2 143.6,315.8" fill="#a8a49e" stroke="#a8a49e"/><polygon points="143.6,315.8 144.5,317.2 146.1,316.9 145.2,315.5" fill="#b2aea8" stroke="#b2aea8"/><polygon points="145.2,315.5 146.1,316.9 147.8,316.5 146.8,315.1" fill="#b1ada7" stroke="#b1ada7"/><polygon points="146.8,315.1 147.8,316.5 149.4,316.1 148.5,314.8" fill="#b0aca6" stroke="#b0aca6"/><polygon points="148.5,314.8 149.4,316.1 151.1,315.7 150.1,314.4" fill="#a39f99" stroke="#a39f99"/><polygon points="150.1,314.4 151.1,315.7 152.7,315.3 151.7,314.1" fill="#938f89" stroke="#938f89"/><polygon points="151.7,314.1 152.7,315.3 154.4,314.9 153.4,313.7" fill="#88847e" stroke="#88847e"/><polygon points="153.4,313.7 154.4,314.9 156.0,314.5 155.0,313.4" fill="#7d7973" stroke="#7d7973"/><polygon points="133.0,320.0 134.0,322.0 135.7,321.5 134.6,319.6" fill="#86827c" stroke="#86827c"/><polygon points="134.6,319.6 135.7,321.5 137.3,321.1 136.3,319.2" fill="#706c66" stroke="#706c66"/><polygon points="136.3,319.2 137.3,321.1 139.0,320.6 137.9,318.8" fill="#726e68" stroke="#726e68"/><polygon points="137.9,318.8 139.0,320.6 140.6,320.2 139.6,318.4" fill="#74706a" stroke="#74706a"/><polygon points="139.6,318.4 140.6,320.2 142.3,319.7 141.2,318.0" fill="#7d7973" stroke="#7d7973"/><polygon points="141.2,318.0 142.3,319.7 143.9,319.3 142.9,317.6" fill="#94908a" stroke="#94908a"/><polygon points="142.9,317.6 143.9,319.3 145.6,318.9 144.5,317.2" fill="#a8a49e" stroke="#a8a49e"/><polygon points="144.5,317.2 145.6,318.9 147.2,318.4 146.1,316.9" fill="#b2aea8" stroke="#b2aea8"/><polygon points="146.1,316.9 147.2,318.4 148.9,318.0 147.8,316.5" fill="#b1ada7" stroke="#b1ada7"/><polygon points="147.8,316.5 148.9,318.0 150.5,317.5 149.4,316.1" fill="#b0aca6" stroke="#b0aca6"/><polygon points="149.4,316.1 150.5,317.5 152.2,317.1 151.1,315.7" fill="#a39f99" stroke="#a39f99"/><polygon points="151.1,315.7 152.2,317.1 153.8,316.6 152.7,315.3" fill="#938f89" stroke="#938f89"/><polygon points="152.7,315.3 153.8,316.6 155.5,316.2 154.4,314.9" fill="#88847e" stroke="#88847e"/><polygon points="154.4,314.9 155.5,316.2 157.1,315.7 156.0,314.5" fill="#7d7973" stroke="#7d7973"/><polygon points="134.0,322.0 135.1,324.1 136.8,323.6 135.7,321.5" fill="#86827c" stroke="#86827c"/><polygon points="135.7,321.5 136.8,323.6 138.5,323.1 137.3,321.1" fill="#706c66" stroke="#706c66"/><polygon points="137.3,321.1 138.5,323.1 140.1,322.6 139.0,320.6" fill="#726e68" stroke="#726e68"/><polygon points="139.0,320.6 140.1,322.6 141.8,322.1 140.6,320.2" fill="#74706a" stroke="#74706a"/><polygon points="140.6,320.2 141.8,322.1 143.4,321.6 142.3,319.7" fill="#7d7973" stroke="#7d7973"/><polygon points="142.3,319.7 143.4,321.6 145.1,321.1 143.9,319.3" fill="#94908a" stroke="#94908a"/><polygon points="143.9,319.3 145.1,321.1 146.7,320.6 145.6,318.9" fill="#a8a49e" stroke="#a8a49e"/><polygon points="145.6,318.9 146.7,320.6 148.4,320.1 147.2,318.4" fill="#b2aea8" stroke="#b2aea8"/><polygon points="147.2,318.4 148.4,320.1 150.1,319.6 148.9,318.0" fill="#b1ada7" stroke="#b1ada7"/><polygon points="148.9,318.0 150.1,319.6 151.7,319.1 150.5,317.5" fill="#b0aca6" stroke="#b0aca6"/><polygon points="150.5,317.5 151.7,319.1 153.4,318.6 152.2,317.1" fill="#a39f99" stroke="#a39f99"/><polygon points="152.2,317.1 153.4,318.6 155.0,318.1 153.8,316.6" fill="#938f89" stroke="#938f89"/><polygon points="153.8,316.6 155.0,318.1 156.7,317.6 155.5,316.2" fill="#88847e" stroke="#88847e"/><polygon points="155.5,316.2 156.7,317.6 158.3,317.1 157.1,315.7" fill="#7d7973" stroke="#7d7973"/><polygon points="135.1,324.1 136.3,326.3 138.0,325.8 136.8,323.6" fill="#86827c" stroke="#86827c"/><polygon points="136.8,323.6 138.0,325.8 139.7,325.2 138.5,323.1" fill="#706c66" stroke="#706c66"/><polygon points="138.5,323.1 139.7,325.2 141.3,324.6 140.1,322.6" fill="#726e68" stroke="#726e68"/><polygon points="140.1,322.6 141.3,324.6 143.0,324.1 141.8,322.1" fill="#74706a" stroke="#74706a"/><polygon points="141.8,322.1 143.0,324.1 144.7,323.5 143.4,321.6" fill="#7d7973" stroke="#7d7973"/><polygon points="143.4,321.6 144.7,323.5 146.3,323.0 145.1,321.1" fill="#94908a" stroke="#94908a"/><polygon points="145.1,321.1 146.3,323.0 148.0,322.4 146.7,320.6" fill="#a8a49e" stroke="#a8a49e"/><polygon points="146.7,320.6 148.0,322.4 149.7,321.8 148.4,320.1" fill="#b2aea8" stroke="#b2aea8"/><polygon points="148.4,320.1 149.7,321.8 151.3,321.3 150.1,319.6" fill="#b1ada7" stroke="#b1ada7"/><polygon points="150.1,319.6 151.3,321.3 153.0,320.7 151.7,319.1" fill="#b0aca6" stroke="#b0aca6"/><polygon points="151.7,319.1 153.0,320.7 154.6,320.2 153.4,318.6" fill="#a39f99" stroke="#a39f99"/><polygon points="153.4,318.6 154.6,320.2 156.3,319.6 155.0,318.1" fill="#938f89" stroke="#938f89"/><polygon points="155.0,318.1 156.3,319.6 158.0,319.0 156.7,317.6" fill="#88847e" stroke="#88847e"/><polygon points="156.7,317.6 158.0,319.0 159.6,318.5 158.3,317.1" fill="#7d7973" stroke="#7d7973"/><polygon points="136.3,326.3 137.5,328.5 139.2,327.9 138.0,325.8" fill="#86827c" stroke="#86827c"/><polygon points="138.0,325.8 139.2,327.9 140.9,327.3 139.7,325.2" fill="#706c66" stroke="#706c66"/><polygon points="139.7,325.2 140.9,327.3 142.5,326.7 141.3,324.6" fill="#726e68" stroke="#726e68"/><polygon points="141.3,324.6 142.5,326.7 144.2,326.1 143.0,324.1" fill="#74706a" stroke="#74706a"/><polygon points="143.0,324.1 144.2,326.1 145.9,325.5 144.7,323.5" fill="#7d7973" stroke="#7d7973"/><polygon points="144.7,323.5 145.9,325.5 147.6,324.9 146.3,323.0" fill="#94908a" stroke="#94908a"/><polygon points="146.3,323.0 147.6,324.9 149.2,324.2 148.0,322.4" fill="#a8a49e" stroke="#a8a49e"/><polygon points="148.0,322.4 149.2,324.2 150.9,323.6 149.7,321.8" fill="#b2aea8" stroke="#b2aea8"/><polygon points="149.7,321.8 150.9,323.6 152.6,323.0 151.3,321.3" fill="#b1ada7" stroke="#b1ada7"/><polygon points="151.3,321.3 152.6,323.0 154.3,322.4 153.0,320.7" fill="#b0aca6" stroke="#b0aca6"/><polygon points="153.0,320.7 154.3,322.4 156.0,321.8 154.6,320.2" fill="#a39f99" stroke="#a39f99"/><polygon points="154.6,320.2 156.0,321.8 157.6,321.2 156.3,319.6" fill="#938f89" stroke="#938f89"/><polygon points="156.3,319.6 157.6,321.2 159.3,320.6 158.0,319.0" fill="#88847e" stroke="#88847e"/><polygon points="158.0,319.0 159.3,320.6 161.0,320.0 159.6,318.5" fill="#7d7973" stroke="#7d7973"/><polygon points="137.5,328.5 138.6,330.6 140.3,330.0 139.2,327.9" fill="#86827c" stroke="#86827c"/><polygon points="139.2,327.9 140.3,330.0 142.0,329.3 140.9,327.3" fill="#706c66" stroke="#706c66"/><polygon points="140.9,327.3 142.0,329.3 143.7,328.7 142.5,326.7" fill="#726e68" stroke="#726e68"/><polygon points="142.5,326.7 143.7,328.7 145.4,328.1 144.2,326.1" fill="#74706a" stroke="#74706a"/><polygon points="144.2,326.1 145.4,328.1 147.1,327.4 145.9,325.5" fill="#7d7973" stroke="#7d7973"/><polygon points="145.9,325.5 147.1,327.4 148.8,326.8 147.6,324.9" fill="#94908a" stroke="#94908a"/><polygon points="147.6,324.9 148.8,326.8 150.5,326.1 149.2,324.2" fill="#a8a49e" stroke="#a8a49e"/><polygon points="149.2,324.2 150.5,326.1 152.2,325.5 150.9,323.6" fill="#b2aea8" stroke="#b2aea8"/><polygon points="150.9,323.6 152.2,325.5 153.9,324.9 152.6,323.0" fill="#b1ada7" stroke="#b1ada7"/><polygon points="152.6,323.0 153.9,324.9 155.6,324.2 154.3,322.4" fill="#b0aca6" stroke="#b0aca6"/><polygon points="154.3,322.4 155.6,324.2 157.3,323.6 156.0,321.8" fill="#a39f99" stroke="#a39f99"/><polygon points="156.0,321.8 157.3,323.6 159.0,322.9 157.6,321.2" fill="#938f89" stroke="#938f89"/><polygon points="157.6,321.2 159.0,322.9 160.7,322.3 159.3,320.6" fill="#88847e" stroke="#88847e"/><polygon points="159.3,320.6 160.7,322.3 162.4,321.6 161.0,320.0" fill="#7d7973" stroke="#7d7973"/><polygon points="138.6,330.6 139.8,332.8 141.5,332.1 140.3,330.0" fill="#86827c" stroke="#86827c"/><polygon points="140.3,330.0 141.5,332.1 143.2,331.4 142.0,329.3" fill="#706c66" stroke="#706c66"/><polygon points="142.0,329.3 143.2,331.4 144.9,330.7 143.7,328.7" fill="#726e68" stroke="#726e68"/><polygon points="143.7,328.7 144.9,330.7 146.7,330.1 145.4,328.1" fill="#74706a" stroke="#74706a"/><polygon points="145.4,328.1 146.7,330.1 148.4,329.4 147.1,327.4" fill="#7d7973" stroke="#7d7973"/><polygon points="147.1,327.4 148.4,329.4 150.1,328.7 148.8,326.8" fill="#94908a" stroke="#94908a"/><polygon points="148.8,326.8 150.1,328.7 151.8,328.1 150.5,326.1" fill="#a8a49e" stroke="#a8a49e"/><polygon points="150.5,326.1 151.8,328.1 153.6,327.4 152.2,325.5" fill="#b2aea8" stroke="#b2aea8"/><polygon points="152.2,325.5 153.6,327.4 155.3,326.7 153.9,324.9" fill="#b1ada7" stroke="#b1ada7"/><polygon points="153.9,324.9 155.3,326.7 157.0,326.1 155.6,324.2" fill="#b0aca6" stroke="#b0aca6"/><polygon points="155.6,324.2 157.0,326.1 158.8,325.4 157.3,323.6" fill="#a39f99" stroke="#a39f99"/><polygon points="157.3,323.6 158.8,325.4 160.5,324.7 159.0,322.9" fill="#938f89" stroke="#938f89"/><polygon points="159.0,322.9 160.5,324.7 162.2,324.1 160.7,322.3" fill="#88847e" stroke="#88847e"/><polygon points="160.7,322.3 162.2,324.1 163.9,323.4 162.4,321.6" fill="#7d7973" stroke="#7d7973"/><polygon points="139.8,332.8 140.9,334.9 142.6,334.2 141.5,332.1" fill="#86827c" stroke="#86827c"/><polygon points="141.5,332.1 142.6,334.2 144.4,333.5 143.2,331.4" fill="#706c66" stroke="#706c66"/><polygon points="143.2,331.4 144.4,333.5 146.1,332.8 144.9,330.7" fill="#726e68" stroke="#726e68"/><polygon points="144.9,330.7 146.1,332.8 147.9,332.1 146.7,330.1" fill="#74706a" stroke="#74706a"/><polygon points="146.7,330.1 147.9,332.1 149.7,331.4 148.4,329.4" fill="#7d7973" stroke="#7d7973"/><polygon points="148.4,329.4 149.7,331.4 151.4,330.7 150.1,328.7" fill="#94908a" stroke="#94908a"/><polygon points="150.1,328.7 151.4,330.7 153.2,330.0 151.8,328.1" fill="#a8a49e" stroke="#a8a49e"/><polygon points="151.8,328.1 153.2,330.0 154.9,329.4 153.6,327.4" fill="#b2aea8" stroke="#b2aea8"/><polygon points="153.6,327.4 154.9,329.4 156.7,328.7 155.3,326.7" fill="#b1ada7" stroke="#b1ada7"/><polygon points="155.3,326.7 156.7,328.7 158.4,328.0 157.0,326.1" fill="#b0aca6" stroke="#b0aca6"/><polygon points="157.0,326.1 158.4,328.0 160.2,327.3 158.8,325.4" fill="#a39f99" stroke="#a39f99"/><polygon points="158.8,325.4 160.2,327.3 162.0,326.6 160.5,324.7" fill="#938f89" stroke="#938f89"/><polygon points="160.5,324.7 162.0,326.6 163.7,325.9 162.2,324.1" fill="#88847e" stroke="#88847e"/><polygon points="162.2,324.1 163.7,325.9 165.5,325.2 163.9,323.4" fill="#7d7973" stroke="#7d7973"/><polygon points="140.9,334.9 142.0,337.0 143.8,336.3 142.6,334.2" fill="#86827c" stroke="#86827c"/><polygon points="142.6,334.2 143.8,336.3 145.6,335.6 144.4,333.5" fill="#706c66" stroke="#706c66"/><polygon points="144.4,333.5 145.6,335.6 147.4,334.9 146.1,332.8" fill="#726e68" stroke="#726e68"/><polygon points="146.1,332.8 147.4,334.9 149.1,334.1 147.9,332.1" fill="#74706a" stroke="#74706a"/><polygon points="147.9,332.1 149.1,334.1 150.9,333.4 149.7,331.4" fill="#7d7973" stroke="#7d7973"/><polygon points="149.7,331.4 150.9,333.4 152.7,332.7 151.4,330.7" fill="#94908a" stroke="#94908a"/><polygon points="151.4,330.7 152.7,332.7 154.5,332.0 153.2,330.0" fill="#a8a49e" stroke="#a8a49e"/><polygon points="153.2,330.0 154.5,332.0 156.3,331.3 154.9,329.4" fill="#b2aea8" stroke="#b2aea8"/><polygon points="154.9,329.4 156.3,331.3 158.1,330.6 156.7,328.7" fill="#b1ada7" stroke="#b1ada7"/><polygon points="156.7,328.7 158.1,330.6 159.9,329.9 158.4,328.0" fill="#b0aca6" stroke="#b0aca6"/><polygon points="158.4,328.0 159.9,329.9 161.6,329.1 160.2,327.3" fill="#a39f99" stroke="#a39f99"/><polygon points="160.2,327.3 161.6,329.1 163.4,328.4 162.0,326.6" fill="#938f89" stroke="#938f89"/><polygon points="162.0,326.6 163.4,328.4 165.2,327.7 163.7,325.9" fill="#88847e" stroke="#88847e"/><polygon points="163.7,325.9 165.2,327.7 167.0,327.0 165.5,325.2" fill="#7d7973" stroke="#7d7973"/>
<polygon points="612.0,133.4 614.3,133.0 614.7,134.3 612.4,134.6" fill="#bebab4" stroke="#bebab4"/><polygon points="612.4,134.6 614.7,134.3 615.1,135.5 612.8,135.8" fill="#d2cec8" stroke="#d2cec8"/><polygon points="612.8,135.8 615.1,135.5 615.4,136.8 613.2,137.1" fill="#d3cfc9" stroke="#d3cfc9"/><polygon points="613.2,137.1 615.4,136.8 615.8,138.0 613.6,138.3" fill="#d2cec8" stroke="#d2cec8"/><polygon points="613.6,138.3 615.8,138.0 616.2,139.3 614.0,139.5" fill="#d1cdc7" stroke="#d1cdc7"/><polygon points="614.0,139.5 616.2,139.3 616.5,140.5 614.4,140.8" fill="#c4c0ba" stroke="#c4c0ba"/><polygon points="614.4,140.8 616.5,140.5 616.9,141.8 614.9,142.0" fill="#b7b3ad" stroke="#b7b3ad"/><polygon points="614.9,142.0 616.9,141.8 617.3,143.0 615.3,143.2" fill="#cdc9c3" stroke="#cdc9c3"/><polygon points="615.3,143.2 617.3,143.0 617.6,144.3 615.7,144.5" fill="#c7c3bd" stroke="#c7c3bd"/><polygon points="615.7,144.5 617.6,144.3 618.0,145.5 616.1,145.7" fill="#b9b5af" stroke="#b9b5af"/><polygon points="616.1,145.7 618.0,145.5 618.4,146.7 616.5,146.9" fill="#aba7a1" stroke="#aba7a1"/><polygon points="616.5,146.9 618.4,146.7 618.7,148.0 616.9,148.1" fill="#9e9a94" stroke="#9e9a94"/><polygon points="616.9,148.1 618.7,148.0 619.1,149.2 617.3,149.4" fill="#8f8b85" stroke="#8f8b85"/><polygon points="617.3,149.4 619.1,149.2 619.5,150.5 617.7,150.6" fill="#817d77" stroke="#817d77"/><polygon points="614.3,133.0 616.7,132.6 617.0,133.9 614.7,134.3" fill="#bebab4" stroke="#bebab4"/><polygon points="614.7,134.3 617.0,133.9 617.3,135.2 615.1,135.5" fill="#d2cec8" stroke="#d2cec8"/><polygon points="615.1,135.5 617.3,135.2 617.7,136.4 615.4,136.8" fill="#d3cfc9" stroke="#d3cfc9"/><polygon points="615.4,136.8 617.7,136.4 618.0,137.7 615.8,138.0" fill="#d2cec8" stroke="#d2cec8"/><polygon points="615.8,138.0 618.0,137.7 618.3,139.0 616.2,139.3" fill="#d1cdc7" stroke="#d1cdc7"/><polygon points="616.2,139.3 618.3,139.0 618.7,140.2 616.5,140.5" fill="#c4c0ba" stroke="#c4c0ba"/><polygon points="616.5,140.5 618.7,140.2 619.0,141.5 616.9,141.8" fill="#b7b3ad" stroke="#b7b3ad"/><polygon points="616.9,141.8 619.0,141.5 619.3,142.8 617.3,143.0" fill="#cdc9c3" stroke="#cdc9c3"/><polygon points="617.3,143.0 619.3,142.8 619.7,144.0 617.6,144.3" fill="#c7c3bd" stroke="#c7c3bd"/><polygon points="617.6,144.3 619.7,144.0 620.0,145.3 618.0,145.5" fill="#b9b5af" stroke="#b9b5af"/><polygon points="618.0,145.5 620.0,145.3 620.3,146.6 618.4,146.7" fill="#aba7a1" stroke="#aba7a1"/><polygon points="618.4,146.7 620.3,146.6 620.6,147.8 618.7,148.0" fill="#9e9a94" stroke="#9e9a94"/><polygon points="618.7,148.0 620.6,147.8 621.0,149.1 619.1,149.2" fill="#8f8b85" stroke="#8f8b85"/><polygon points="619.1,149.2 621.0,149.1 621.3,150.4 619.5,150.5" fill="#817d77" stroke="#817d77"/><polygon points="616.7,132.6 619.0,132.3 619.3,133.6 617.0,133.9" fill="#bebab4" stroke="#bebab4"/><polygon points="617.0,133.9 619.3,133.6 619.5,134.9 617.3,135.2" fill="#d2cec8" stroke="#d2cec8"/><polygon points="617.3,135.2 619.5,134.9 619.8,136.1 617.7,136.4" fill="#d3cfc9" stroke="#d3cfc9"/><polygon points="617.7,136.4 619.8,136.1 620.1,137.4 618.0,137.7" fill="#d2cec8" stroke="#d2cec8"/><polygon points="618.0,137.7 620.1,137.4 620.4,138.7 618.3,139.0" fill="#d1cdc7" stroke="#d1cdc7"/><polygon points="618.3,139.0 620.4,138.7 620.7,140.0 618.7,140.2" fill="#c4c0ba" stroke="#c4c0ba"/><polygon points="618.7,140.2 620.7,140.0 621.0,141.3 619.0,141.5" fill="#b7b3ad" stroke="#b7b3ad"/><polygon points="619.0,141.5 621.0,141.3 621.3,142.6 619.3,142.8" fill="#cdc9c3" stroke="#cdc9c3"/><polygon points="619.3,142.8 621.3,142.6 621.6,143.8 619.7,144.0" fill="#c7c3bd" stroke="#c7c3bd"/><polygon points="619.7,144.0 621.6,143.8 621.9,145.1 620.0,145.3" fill="#b9b5af" stroke="#b9b5af"/><polygon points="620.0,145.3 621.9,145.1 622.2,146.4 620.3,146.6" fill="#aba7a1" stroke="#aba7a1"/><polygon points="620.3,146.6 622.2,146.4 622.5,147.7 620.6,147.8" fill="#9e9a94" stroke="#9e9a94"/><polygon points="620.6,147.8 622.5,147.7 622.7,149.0 621.0,149.1" fill="#8f8b85" stroke="#8f8b85"/><polygon points="621.0,149.1 622.7,149.0 623.0,150.3 621.3,150.4" fill="#817d77" stroke="#817d77"/><polygon points="619.0,132.3 621.0,132.0 621.2,133.3 619.3,133.6" fill="#bebab4" stroke="#bebab4"/><polygon points="619.3,133.6 621.2,133.3 621.5,134.6 619.5,134.9" fill="#d2cec8" stroke="#d2cec8"/><polygon points="619.5,134.9 621.5,134.6 621.8,135.9 619.8,136.1" fill="#d3cfc9" stroke="#d3cfc9"/><polygon points="619.8,136.1 621.8,135.9 622.0,137.2 620.1,137.4" fill="#d2cec8" stroke="#d2cec8"/><polygon points="620.1,137.4 622.0,137.2 622.2,138.5 620.4,138.7" fill="#d1cdc7" stroke="#d1cdc7"/><polygon points="620.4,138.7 622.2,138.5 622.5,139.8 620.7,140.0" fill="#c4c0ba" stroke="#c4c0ba"/><polygon points="620.7,140.0 622.5,139.8 622.8,141.1 621.0,141.3" fill="#b7b3ad" stroke="#b7b3ad"/><polygon points="621.0,141.3 622.8,141.1 623.0,142.4 621.3,142.6" fill="#cdc9c3" stroke="#cdc9c3"/><polygon points="621.3,142.6 623.0,142.4 623.2,143.7 621.6,143.8" fill="#c7c3bd" stroke="#c7c3bd"/><polygon points="621.6,143.8 623.2,143.7 623.5,145.0 621.9,145.1" fill="#b9b5af" stroke="#b9b5af"/><polygon points="621.9,145.1 623.5,145.0 623.8,146.3 622.2,146.4" fill="#aba7a1" stroke="#aba7a1"/><polygon points="622.2,146.4 623.8,146.3 624.0,147.6 622.5,147.7" fill="#9e9a94" stroke="#9e9a94"/><polygon points="622.5,147.7 624.0,147.6 624.2,148.9 622.7,149.0" fill="#8f8b85" stroke="#8f8b85"/><polygon points="622.7,149.0 624.2,148.9 624.5,150.2 623.0,150.3" fill="#817d77" stroke="#817d77"/><polygon points="621.0,132.0 622.7,131.8 622.9,133.1 621.2,133.3" fill="#bebab4" stroke="#bebab4"/><polygon points="621.2,133.3 622.9,133.1 623.1,134.4 621.5,134.6" fill="#d1cdc7" stroke="#d1cdc7"/><polygon points="621.5,134.6 623.1,134.4 623.3,135.7 621.8,135.9" fill="#d3cfc9" stroke="#d3cfc9"/><polygon points="621.8,135.9 623.3,135.7 623.5,137.0 622.0,137.2" fill="#d1cdc7" stroke="#d1cdc7"/><polygon points="622.0,137.2 623.5,137.0 623.7,138.3 622.2,138.5" fill="#cfcbc5" stroke="#cfcbc5"/><polygon points="622.2,138.5 623.7,138.3 624.0,139.7 622.5,139.8" fill="#c3bfb9" stroke="#c3bfb9"/><polygon points="622.5,139.8 624.0,139.7 624.2,141.0 622.8,141.1" fill="#b6b2ac" stroke="#b6b2ac"/><polygon points="622.8,141.1 624.2,141.0 624.4,142.3 623.0,142.4" fill="#c8c4be" stroke="#c8c4be"/><polygon points="623.0,142.4 624.4,142.3 624.6,143.6 623.2,143.7" fill="#c1bdb7" stroke="#c1bdb7"/><polygon points="623.2,143.7 624.6,143.6 624.8,144.9 623.5,145.0" fill="#b4b0aa" stroke="#b4b0aa"/><polygon points="623.5,145.0 624.8,144.9 625.0,146.2 623.8,146.3" fill="#a6a29c" stroke="#a6a29c"/><polygon points="623.8,146.3 625.0,146.2 625.2,147.5 624.0,147.6" fill="#9a9690" stroke="#9a9690"/><polygon points="624.0,147.6 625.2,147.5 625.4,148.8 624.2,148.9" fill="#8d8983" stroke="#8d8983"/><polygon points="624.2,148.9 625.4,148.8 625.6,150.2 624.5,150.2" fill="#807c76" stroke="#807c76"/><polygon points="622.7,131.8 624.2,131.6 624.4,132.9 622.9,133.1" fill="#bebab4" stroke="#bebab4"/><polygon points="622.9,133.1 624.4,132.9 624.5,134.2 623.1,134.4" fill="#d1cdc7" stroke="#d1cdc7"/><polygon points="623.1,134.4 624.5,134.2 624.7,135.6 623.3,135.7" fill="#d3cfc9" stroke="#d3cfc9"/><polygon points="623.3,135.7 624.7,135.6 624.8,136.9 623.5,137.0" fill="#d1cdc7" stroke="#d1cdc7"/><polygon points="623.5,137.0 624.8,136.9 625.0,138.2 623.7,138.3" fill="#cdc9c3" stroke="#cdc9c3"/><polygon points="623.7,138.3 625.0,138.2 625.2,139.5 624.0,139.7" fill="#c2beb8" stroke="#c2beb8"/><polygon points="624.0,139.7 625.2,139.5 625.3,140.9 624.2,141.0" fill="#b5b1ab" stroke="#b5b1ab"/><polygon points="624.2,141.0 625.3,140.9 625.5,142.2 624.4,142.3" fill="#bebab4" stroke="#bebab4"/><polygon points="624.4,142.3 625.5,142.2 625.7,143.5 624.6,143.6" fill="#b6b2ac" stroke="#b6b2ac"/><polygon points="624.6,143.6 625.7,143.5 625.8,144.8 624.8,144.9" fill="#a9a59f" stroke="#a9a59f"/><polygon points="624.8,144.9 625.8,144.8 626.0,146.2 625.0,146.2" fill="#9e9a94" stroke="#9e9a94"/><polygon points="625.0,146.2 626.0,146.2 626.2,147.5 625.2,147.5" fill="#938f89" stroke="#938f89"/><polygon points="625.2,147.5 626.2,147.5 626.3,148.8 625.4,148.8" fill="#89857f" stroke="#89857f"/><polygon points="625.4,148.8 626.3,148.8 626.5,150.1 625.6,150.2" fill="#7e7a74" stroke="#7e7a74"/><polygon points="624.2,131.6 625.6,131.5 625.7,132.8 624.4,132.9" fill="#bebab4" stroke="#bebab4"/><polygon points="624.4,132.9 625.7,132.8 625.8,134.2 624.5,134.2" fill="#d0ccc6" stroke="#d0ccc6"/><polygon points="624.5,134.2 625.8,134.2 625.9,135.5 624.7,135.6" fill="#d3cfc9" stroke="#d3cfc9"/><polygon points="624.7,135.6 625.9,135.5 626.0,136.8 624.8,136.9" fill="#d0ccc6" stroke="#d0ccc6"/><polygon points="624.8,136.9 626.0,136.8 626.2,138.2 625.0,138.2" fill="#cac6c0" stroke="#cac6c0"/><polygon points="625.0,138.2 626.2,138.2 626.3,139.5 625.2,139.5" fill="#c1bdb7" stroke="#c1bdb7"/><polygon points="625.2,139.5 626.3,139.5 626.4,140.8 625.3,140.9" fill="#b3afa9" stroke="#b3afa9"/><polygon points="625.3,140.9 626.4,140.8 626.5,142.2 625.5,142.2" fill="#b3afa9" stroke="#b3afa9"/><polygon points="625.5,142.2 626.5,142.2 626.6,143.5 625.7,143.5" fill="#aaa6a0" stroke="#aaa6a0"/><polygon points="625.7,143.5 626.6,143.5 626.8,144.8 625.8,144.8" fill="#9f9b95" stroke="#9f9b95"/><polygon points="625.8,144.8 626.8,144.8 626.9,146.2 626.0,146.2" fill="#95918b" stroke="#95918b"/><polygon points="626.0,146.2 626.9,146.2 627.0,147.5 626.2,147.5" fill="#8d8983" stroke="#8d8983"/><polygon points="626.2,147.5 627.0,147.5 627.1,148.8 626.3,148.8" fill="#84807a" stroke="#84807a"/><polygon points="626.3,148.8 627.1,148.8 627.2,150.1 626.5,150.1" fill="#7c7872" stroke="#7c7872"/><polygon points="625.6,131.5 627.0,131.5 627.1,132.8 625.7,132.8" fill="#bebab4" stroke="#bebab4"/><polygon points="625.7,132.8 627.1,132.8 627.1,134.2 625.8,134.2" fill="#d0ccc6" stroke="#d0ccc6"/><polygon points="625.8,134.2 627.1,134.2 627.2,135.5 625.9,135.5" fill="#d3cfc9" stroke="#d3cfc9"/><polygon points="625.9,135.5 627.2,135.5 627.3,136.8 626.0,136.8" fill="#cfcbc5" stroke="#cfcbc5"/><polygon points="626.0,136.8 627.3,136.8 627.4,138.2 626.2,138.2" fill="#c8c4be" stroke="#c8c4be"/><polygon points="626.2,138.2 627.4,138.2 627.4,139.5 626.3,139.5" fill="#bfbbb5" stroke="#bfbbb5"/><polygon points="626.3,139.5 627.4,139.5 627.5,140.8 626.4,140.8" fill="#b2aea8" stroke="#b2aea8"/><polygon points="626.4,140.8 627.5,140.8 627.6,142.2 626.5,142.2" fill="#a8a49e" stroke="#a8a49e"/><polygon points="626.5,142.2 627.6,142.2 627.6,143.5 626.6,143.5" fill="#9e9a94" stroke="#9e9a94"/><polygon points="626.6,143.5 627.6,143.5 627.7,144.9 626.8,144.8" fill="#94908a" stroke="#94908a"/><polygon points="626.8,144.8 627.7,144.9 627.8,146.2 626.9,146.2" fill="#8c8882" stroke="#8c8882"/><polygon points="626.9,146.2 627.8,146.2 627.9,147.5 627.0,147.5" fill="#86827c" stroke="#86827c"/><polygon points="627.0,147.5 627.9,147.5 627.9,148.9 627.1,148.8" fill="#7f7b75" stroke="#7f7b75"/><polygon points="627.1,148.8 627.9,148.9 628.0,150.2 627.2,150.1" fill="#79756f" stroke="#79756f"/><polygon points="627.0,131.5 628.5,131.6 628.5,133.0 627.1,132.8" fill="#bebab4" stroke="#bebab4"/><polygon points="627.1,132.8 628.5,133.0 628.5,134.3 627.1,134.2" fill="#cfcbc5" stroke="#cfcbc5"/><polygon points="627.1,134.2 628.5,134.3 628.6,135.6 627.2,135.5" fill="#d3cfc9" stroke="#d3cfc9"/><polygon points="627.2,135.5 628.6,135.6 628.6,137.0 627.3,136.8" fill="#cecac4" stroke="#cecac4"/><polygon points="627.3,136.8 628.6,137.0 628.6,138.3 627.4,138.2" fill="#c7c3bd" stroke="#c7c3bd"/><polygon points="627.4,138.2 628.6,138.3 628.6,139.6 627.4,139.5" fill="#bfbbb5" stroke="#bfbbb5"/><polygon points="627.4,139.5 628.6,139.6 628.6,141.0 627.5,140.8" fill="#b1ada7" stroke="#b1ada7"/><polygon points="627.5,140.8 628.6,141.0 628.7,142.3 627.6,142.2" fill="#a39f99" stroke="#a39f99"/><polygon points="627.6,142.2 628.7,142.3 628.7,143.6 627.6,143.5" fill="#98948e" stroke="#98948e"/><polygon points="627.6,143.5 628.7,143.6 628.7,145.0 627.7,144.9" fill="#8f8b85" stroke="#8f8b85"/><polygon points="627.7,144.9 628.7,145.0 628.7,146.3 627.8,146.2" fill="#88847e" stroke="#88847e"/><polygon points="627.8,146.2 628.7,146.3 628.7,147.6 627.9,147.5" fill="#827e78" stroke="#827e78"/><polygon points="627.9,147.5 628.7,147.6 628.8,149.0 627.9,148.9" fill="#7d7973" stroke="#7d7973"/><polygon points="627.9,148.9 628.8,149.0 628.8,150.3 628.0,150.2" fill="#78746e" stroke="#78746e"/><polygon points="628.5,131.6 630.0,131.9 630.0,133.2 628.5,133.0" fill="#bebab4" stroke="#bebab4"/><polygon points="628.5,133.0 630.0,133.2 629.9,134.5 628.5,134.3" fill="#cfcbc5" stroke="#cfcbc5"/><polygon points="628.5,134.3 629.9,134.5 629.9,135.8 628.6,135.6" fill="#d3cfc9" stroke="#d3cfc9"/><polygon points="628.6,135.6 629.9,135.8 629.9,137.2 628.6,137.0" fill="#cecac4" stroke="#cecac4"/><polygon points="628.6,137.0 629.9,137.2 629.8,138.5 628.6,138.3" fill="#c7c3bd" stroke="#c7c3bd"/><polygon points="628.6,138.3 629.8,138.5 629.8,139.8 628.6,139.6" fill="#bfbbb5" stroke="#bfbbb5"/><polygon points="628.6,139.6 629.8,139.8 629.8,141.1 628.6,141.0" fill="#b1ada7" stroke="#b1ada7"/><polygon points="628.6,141.0 629.8,141.1 629.7,142.5 628.7,142.3" fill="#a39f99" stroke="#a39f99"/><polygon points="628.7,142.3 629.7,142.5 629.7,143.8 628.7,143.6" fill="#98948e" stroke="#98948e"/><polygon points="628.7,143.6 629.7,143.8 629.7,145.1 628.7,145.0" fill="#8f8b85" stroke="#8f8b85"/><polygon points="628.7,145.0 629.7,145.1 629.6,146.4 628.7,146.3" fill="#88847e" stroke="#88847e"/><polygon points="628.7,146.3 629.6,146.4 629.6,147.8 628.7,147.6" fill="#827e78" stroke="#827e78"/><polygon points="628.7,147.6 629.6,147.8 629.6,149.1 628.8,149.0" fill="#7d7973" stroke="#7d7973"/><polygon points="628.8,149.0 629.6,149.1 629.5,150.4 628.8,150.3" fill="#78746e" stroke="#78746e"/><polygon points="630.0,131.9 631.5,132.2 631.4,133.5 630.0,133.2" fill="#bebab4" stroke="#bebab4"/><polygon points="630.0,133.2 631.4,133.5 631.3,134.8 629.9,134.5" fill="#cfcbc5" stroke="#cfcbc5"/><polygon points="629.9,134.5 631.3,134.8 631.2,136.1 629.9,135.8" fill="#d3cfc9" stroke="#d3cfc9"/><polygon points="629.9,135.8 631.2,136.1 631.1,137.4 629.9,137.2" fill="#cecac4" stroke="#cecac4"/><polygon points="629.9,137.2 631.1,137.4 631.1,138.7 629.8,138.5" fill="#c7c3bd" stroke="#c7c3bd"/><polygon points="629.8,138.5 631.1,138.7 631.0,140.1 629.8,139.8" fill="#bfbbb5" stroke="#bfbbb5"/><polygon points="629.8,139.8 631.0,140.1 630.9,141.4 629.8,141.1" fill="#b1ada7" stroke="#b1ada7"/><polygon points="629.8,141.1 630.9,141.4 630.8,142.7 629.7,142.5" fill="#a39f99" stroke="#a39f99"/><polygon points="629.7,142.5 630.8,142.7 630.7,144.0 629.7,143.8" fill="#98948e" stroke="#98948e"/><polygon points="629.7,143.8 630.7,144.0 630.6,145.3 629.7,145.1" fill="#8f8b85" stroke="#8f8b85"/><polygon points="629.7,145.1 630.6,145.3 630.5,146.6 629.6,146.4" fill="#88847e" stroke="#88847e"/><polygon points="629.6,146.4 630.5,146.6 630.4,147.9 629.6,147.8" fill="#827e78" stroke="#827e78"/><polygon points="629.6,147.8 630.4,147.9 630.4,149.3 629.6,149.1" fill="#7d7973" stroke="#7d7973"/><polygon points="629.6,149.1 630.4,149.3 630.3,150.6 629.5,150.4" fill="#78746e" stroke="#78746e"/><polygon points="631.5,132.2 633.0,132.5 632.9,133.8 631.4,133.5" fill="#bebab4" stroke="#bebab4"/><polygon points="631.4,133.5 632.9,133.8 632.7,135.1 631.3,134.8" fill="#cfcbc5" stroke="#cfcbc5"/><polygon points="631.3,134.8 632.7,135.1 632.6,136.4 631.2,136.1" fill="#d3cfc9" stroke="#d3cfc9"/><polygon points="631.2,136.1 632.6,136.4 632.4,137.7 631.1,137.4" fill="#cecac4" stroke="#cecac4"/><polygon points="631.1,137.4 632.4,137.7 632.3,139.0 631.1,138.7" fill="#c7c3bd" stroke="#c7c3bd"/><polygon points="631.1,138.7 632.3,139.0 632.1,140.3 631.0,140.1" fill="#bfbbb5" stroke="#bfbbb5"/><polygon points="631.0,140.1 632.1,140.3 632.0,141.7 630.9,141.4" fill="#b1ada7" stroke="#b1ada7"/><polygon points="630.9,141.4 632.0,141.7 631.9,143.0 630.8,142.7" fill="#a39f99" stroke="#a39f99"/><polygon points="630.8,142.7 631.9,143.0 631.7,144.3 630.7,144.0" fill="#98948e" stroke="#98948e"/><polygon points="630.7,144.0 631.7,144.3 631.6,145.6 630.6,145.3" fill="#8f8b85" stroke="#8f8b85"/><polygon points="630.6,145.3 631.6,145.6 631.4,146.9 630.5,146.6" fill="#88847e" stroke="#88847e"/><polygon points="630.5,146.6 631.4,146.9 631.3,148.2 630.4,147.9" fill="#827e78" stroke="#827e78"/><polygon points="630.4,147.9 631.3,148.2 631.1,149.5 630.4,149.3" fill="#7d7973" stroke="#7d7973"/><polygon points="630.4,149.3 631.1,149.5 631.0,150.8 630.3,150.6" fill="#78746e" stroke="#78746e"/><polygon points="633.0,132.5 634.5,132.9 634.3,134.2 632.9,133.8" fill="#bebab4" stroke="#bebab4"/><polygon points="632.9,133.8 634.3,134.2 634.1,135.5 632.7,135.1" fill="#cfcbc5" stroke="#cfcbc5"/><polygon points="632.7,135.1 634.1,135.5 633.9,136.8 632.6,136.4" fill="#d3cfc9" stroke="#d3cfc9"/><polygon points="632.6,136.4 633.9,136.8 633.7,138.1 632.4,137.7" fill="#cecac4" stroke="#cecac4"/><polygon points="632.4,137.7 633.7,138.1 633.5,139.4 632.3,139.0" fill="#c7c3bd" stroke="#c7c3bd"/><polygon points="632.3,139.0 633.5,139.4 633.3,140.7 632.1,140.3" fill="#bfbbb5" stroke="#bfbbb5"/><polygon points="632.1,140.3 633.3,140.7 633.1,142.0 632.0,141.7" fill="#b1ada7" stroke="#b1ada7"/><polygon points="632.0,141.7 633.1,142.0 632.9,143.3 631.9,143.0" fill="#a39f99" stroke="#a39f99"/><polygon points="631.9,143.0 632.9,143.3 632.7,144.6 631.7,144.3" fill="#98948e" stroke="#98948e"/><polygon points="631.7,144.3 632.7,144.6 632.5,145.9 631.6,145.6" fill="#8f8b85" stroke="#8f8b85"/><polygon points="631.6,145.6 632.5,145.9 632.3,147.2 631.4,146.9" fill="#88847e" stroke="#88847e"/><polygon points="631.4,146.9 632.3,147.2 632.1,148.5 631.3,148.2" fill="#827e78" stroke="#827e78"/><polygon points="631.3,148.2 632.1,148.5 631.9,149.8 631.1,149.5" fill="#7d7973" stroke="#7d7973"/><polygon points="631.1,149.5 631.9,149.8 631.7,151.1 631.0,150.8" fill="#78746e" stroke="#78746e"/><polygon points="634.5,132.9 636.0,133.3 635.7,134.6 634.3,134.2" fill="#bebab4" stroke="#bebab4"/><polygon points="634.3,134.2 635.7,134.6 635.5,135.9 634.1,135.5" fill="#cfcbc5" stroke="#cfcbc5"/><polygon points="634.1,135.5 635.5,135.9 635.2,137.2 633.9,136.8" fill="#d3cfc9" stroke="#d3cfc9"/><polygon points="633.9,136.8 635.2,137.2 635.0,138.5 633.7,138.1" fill="#cecac4" stroke="#cecac4"/><polygon points="633.7,138.1 635.0,138.5 634.7,139.7 633.5,139.4" fill="#c7c3bd" stroke="#c7c3bd"/><polygon points="633.5,139.4 634.7,139.7 634.5,141.0 633.3,140.7" fill="#bfbbb5" stroke="#bfbbb5"/><polygon points="633.3,140.7 634.5,141.0 634.2,142.3 633.1,142.0" fill="#b1ada7" stroke="#b1ada7"/><polygon points="633.1,142.0 634.2,142.3 634.0,143.6 632.9,143.3" fill="#a39f99" stroke="#a39f99"/><polygon points="632.9,143.3 634.0,143.6 633.7,144.9 632.7,144.6" fill="#98948e" stroke="#98948e"/><polygon points="632.7,144.6 633.7,144.9 633.5,146.2 632.5,145.9" fill="#8f8b85" stroke="#8f8b85"/><polygon points="632.5,145.9 633.5,146.2 633.2,147.5 632.3,147.2" fill="#88847e" stroke="#88847e"/><polygon points="632.3,147.2 633.2,147.5 633.0,148.8 632.1,148.5" fill="#827e78" stroke="#827e78"/><polygon points="632.1,148.5 633.0,148.8 632.7,150.1 631.9,149.8" fill="#7d7973" stroke="#7d7973"/><polygon points="631.9,149.8 632.7,150.1 632.5,151.4 631.7,151.1" fill="#78746e" stroke="#78746e"/><polygon points="636.0,133.3 637.5,133.7 637.2,135.0 635.7,134.6" fill="#bebab4" stroke="#bebab4"/><polygon points="635.7,134.6 637.2,135.0 636.9,136.3 635.5,135.9" fill="#cfcbc5" stroke="#cfcbc5"/><polygon points="635.5,135.9 636.9,136.3 636.6,137.6 635.2,137.2" fill="#d3cfc9" stroke="#d3cfc9"/><polygon points="635.2,137.2 636.6,137.6 636.3,138.9 635.0,138.5" fill="#cecac4" stroke="#cecac4"/><polygon points="635.0,138.5 636.3,138.9 636.0,140.2 634.7,139.7" fill="#c7c3bd" stroke="#c7c3bd"/><polygon points="634.7,139.7 636.0,140.2 635.7,141.5 634.5,141.0" fill="#bfbbb5" stroke="#bfbbb5"/><polygon points="634.5,141.0 635.7,141.5 635.4,142.8 634.2,142.3" fill="#b1ada7" stroke="#b1ada7"/><polygon points="634.2,142.3 635.4,142.8 635.1,144.0 634.0,143.6" fill="#a39f99" stroke="#a39f99"/><polygon points="634.0,143.6 635.1,144.0 634.7,145.3 633.7,144.9" fill="#98948e" stroke="#98948e"/><polygon points="633.7,144.9 634.7,145.3 634.4,146.6 633.5,146.2" fill="#8f8b85" stroke="#8f8b85"/><polygon points="633.5,146.2 634.4,146.6 634.1,147.9 633.2,147.5" fill="#88847e" stroke="#88847e"/><polygon points="633.2,147.5 634.1,147.9 633.8,149.2 633.0,148.8" fill="#827e78" stroke="#827e78"/><polygon points="633.0,148.8 633.8,149.2 633.5,150.5 632.7,150.1" fill="#7d7973" stroke="#7d7973"/><polygon points="632.7,150.1 633.5,150.5 633.2,151.8 632.5,151.4" fill="#78746e" stroke="#78746e"/><polygon points="637.5,133.7 639.0,134.3 638.6,135.6 637.2,135.0" fill="#bebab4" stroke="#bebab4"/><polygon points="637.2,135.0 638.6,135.6 638.3,136.9 636.9,136.3" fill="#cfcbc5" stroke="#cfcbc5"/><polygon points="636.9,136.3 638.3,136.9 637.9,138.1 636.6,137.6" fill="#d3cfc9" stroke="#d3cfc9"/><polygon points="636.6,137.6 637.9,138.1 637.6,139.4 636.3,138.9" fill="#cecac4" stroke="#cecac4"/><polygon points="636.3,138.9 637.6,139.4 637.2,140.7 636.0,140.2" fill="#c7c3bd" stroke="#c7c3bd"/><polygon points="636.0,140.2 637.2,140.7 636.9,142.0 635.7,141.5" fill="#bfbbb5" stroke="#bfbbb5"/><polygon points="635.7,141.5 636.9,142.0 636.5,143.2 635.4,142.8" fill="#b1ada7" stroke="#b1ada7"/><polygon points="635.4,142.8 636.5,143.2 636.1,144.5 635.1,144.0" fill="#a39f99" stroke="#a39f99"/><polygon points="635.1,144.0 636.1,144.5 635.8,145.8 634.7,145.3" fill="#98948e" stroke="#98948e"/><polygon points="634.7,145.3 635.8,145.8 635.4,147.1 634.4,146.6" fill="#8f8b85" stroke="#8f8b85"/><polygon points="634.4,146.6 635.4,147.1 635.1,148.4 634.1,147.9" fill="#88847e" stroke="#88847e"/><polygon points="634.1,147.9 635.1,148.4 634.7,149.6 633.8,149.2" fill="#827e78" stroke="#827e78"/><polygon points="633.8,149.2 634.7,149.6 634.4,150.9 633.5,150.5" fill="#7d7973" stroke="#7d7973"/><polygon points="633.5,150.5 634.4,150.9 634.0,152.2 633.2,151.8" fill="#78746e" stroke="#78746e"/><polygon points="639.0,134.3 640.5,134.9 640.1,136.2 638.6,135.6" fill="#bebab4" stroke="#bebab4"/><polygon points="638.6,135.6 640.1,136.2 639.7,137.5 638.3,136.9" fill="#d0ccc6" stroke="#d0ccc6"/><polygon points="638.3,136.9 639.7,137.5 639.3,138.7 637.9,138.1" fill="#d2cec8" stroke="#d2cec8"/><polygon points="637.9,138.1 639.3,138.7 638.9,140.0 637.6,139.4" fill="#cecac4" stroke="#cecac4"/><polygon points="637.6,139.4 638.9,140.0 638.5,141.3 637.2,140.7" fill="#c6c2bc" stroke="#c6c2bc"/><polygon points="637.2,140.7 638.5,141.3 638.1,142.5 636.9,142.0" fill="#bebab4" stroke="#bebab4"/><polygon points="636.9,142.0 638.1,142.5 637.7,143.8 636.5,143.2" fill="#b0aca6" stroke="#b0aca6"/><polygon points="636.5,143.2 637.7,143.8 637.3,145.1 636.1,144.5" fill="#a29e98" stroke="#a29e98"/><polygon points="636.1,144.5 637.3,145.1 636.9,146.4 635.8,145.8" fill="#98948e" stroke="#98948e"/><polygon points="635.8,145.8 636.9,146.4 636.4,147.6 635.4,147.1" fill="#8e8a84" stroke="#8e8a84"/><polygon points="635.4,147.1 636.4,147.6 636.0,148.9 635.1,148.4" fill="#87837d" stroke="#87837d"/><polygon points="635.1,148.4 636.0,148.9 635.6,150.2 634.7,149.6" fill="#817d77" stroke="#817d77"/><polygon points="634.7,149.6 635.6,150.2 635.2,151.4 634.4,150.9" fill="#7c7872" stroke="#7c7872"/><polygon points="634.4,150.9 635.2,151.4 634.8,152.7 634.0,152.2" fill="#77736d" stroke="#77736d"/><polygon points="640.5,134.9 642.0,135.7 641.5,136.9 640.1,136.2" fill="#bdb9b3" stroke="#bdb9b3"/><polygon points="640.1,136.2 641.5,136.9 641.1,138.2 639.7,137.5" fill="#d0ccc6" stroke="#d0ccc6"/><polygon points="639.7,137.5 641.1,138.2 640.6,139.4 639.3,138.7" fill="#d1cdc7" stroke="#d1cdc7"/><polygon points="639.3,138.7 640.6,139.4 640.2,140.7 638.9,140.0" fill="#ccc8c2" stroke="#ccc8c2"/><polygon points="638.9,140.0 640.2,140.7 639.7,141.9 638.5,141.3" fill="#c5c1bb" stroke="#c5c1bb"/><polygon points="638.5,141.3 639.7,141.9 639.3,143.2 638.1,142.5" fill="#bcb8b2" stroke="#bcb8b2"/><polygon points="638.1,142.5 639.3,143.2 638.8,144.4 637.7,143.8" fill="#afaba5" stroke="#afaba5"/><polygon points="637.7,143.8 638.8,144.4 638.4,145.7 637.3,145.1" fill="#a29e98" stroke="#a29e98"/><polygon points="637.3,145.1 638.4,145.7 637.9,147.0 636.9,146.4" fill="#97938d" stroke="#97938d"/><polygon points="636.9,146.4 637.9,147.0 637.5,148.2 636.4,147.6" fill="#8d8983" stroke="#8d8983"/><polygon points="636.4,147.6 637.5,148.2 637.0,149.5 636.0,148.9" fill="#85817b" stroke="#85817b"/><polygon points="636.0,148.9 637.0,149.5 636.6,150.7 635.6,150.2" fill="#7e7a74" stroke="#7e7a74"/><polygon points="635.6,150.2 636.6,150.7 636.1,152.0 635.2,151.4" fill="#78746e" stroke="#78746e"/><polygon points="635.2,151.4 636.1,152.0 635.7,153.2 634.8,152.7" fill="#74706a" stroke="#74706a"/><polygon points="642.0,135.7 643.5,136.5 643.0,137.7 641.5,136.9" fill="#bdb9b3" stroke="#bdb9b3"/><polygon points="641.5,136.9 643.0,137.7 642.5,138.9 641.1,138.2" fill="#d0ccc6" stroke="#d0ccc6"/><polygon points="641.1,138.2 642.5,138.9 642.0,140.2 640.6,139.4" fill="#cfcbc5" stroke="#cfcbc5"/><polygon points="640.6,139.4 642.0,140.2 641.5,141.4 640.2,140.7" fill="#cbc7c1" stroke="#cbc7c1"/><polygon points="640.2,140.7 641.5,141.4 641.0,142.7 639.7,141.9" fill="#c4c0ba" stroke="#c4c0ba"/><polygon points="639.7,141.9 641.0,142.7 640.5,143.9 639.3,143.2" fill="#bab6b0" stroke="#bab6b0"/><polygon points="639.3,143.2 640.5,143.9 640.0,145.1 638.8,144.4" fill="#ada9a3" stroke="#ada9a3"/><polygon points="638.8,144.4 640.0,145.1 639.5,146.4 638.4,145.7" fill="#a19d97" stroke="#a19d97"/><polygon points="638.4,145.7 639.5,146.4 639.1,147.6 637.9,147.0" fill="#96928c" stroke="#96928c"/><polygon points="637.9,147.0 639.1,147.6 638.6,148.9 637.5,148.2" fill="#8c8882" stroke="#8c8882"/><polygon points="637.5,148.2 638.6,148.9 638.1,150.1 637.0,149.5" fill="#837f79" stroke="#837f79"/><polygon points="637.0,149.5 638.1,150.1 637.6,151.4 636.6,150.7" fill="#7b7771" stroke="#7b7771"/><polygon points="636.6,150.7 637.6,151.4 637.1,152.6 636.1,152.0" fill="#75716b" stroke="#75716b"/><polygon points="636.1,152.0 637.1,152.6 636.6,153.8 635.7,153.2" fill="#706c66" stroke="#706c66"/><polygon points="643.5,136.5 645.0,137.3 644.5,138.5 643.0,137.7" fill="#bcb8b2" stroke="#bcb8b2"/><polygon points="643.0,137.7 644.5,138.5 643.9,139.8 642.5,138.9" fill="#d0ccc6" stroke="#d0ccc6"/><polygon points="642.5,138.9 643.9,139.8 643.4,141.0 642.0,140.2" fill="#cdc9c3" stroke="#cdc9c3"/><polygon points="642.0,140.2 643.4,141.0 642.9,142.2 641.5,141.4" fill="#c9c5bf" stroke="#c9c5bf"/><polygon points="641.5,141.4 642.9,142.2 642.3,143.4 641.0,142.7" fill="#c3bfb9" stroke="#c3bfb9"/><polygon points="641.0,142.7 642.3,143.4 641.8,144.7 640.5,143.9" fill="#b8b4ae" stroke="#b8b4ae"/><polygon points="640.5,143.9 641.8,144.7 641.2,145.9 640.0,145.1" fill="#aca8a2" stroke="#aca8a2"/><polygon points="640.0,145.1 641.2,145.9 640.7,147.1 639.5,146.4" fill="#a09c96" stroke="#a09c96"/><polygon points="639.5,146.4 640.7,147.1 640.2,148.4 639.1,147.6" fill="#95918b" stroke="#95918b"/><polygon points="639.1,147.6 640.2,148.4 639.6,149.6 638.6,148.9" fill="#8b8781" stroke="#8b8781"/><polygon points="638.6,148.9 639.6,149.6 639.1,150.8 638.1,150.1" fill="#817d77" stroke="#817d77"/><polygon points="638.1,150.1 639.1,150.8 638.6,152.0 637.6,151.4" fill="#78746e" stroke="#78746e"/><polygon points="637.6,151.4 638.6,152.0 638.0,153.3 637.1,152.6" fill="#726e68" stroke="#726e68"/><polygon points="637.1,152.6 638.0,153.3 637.5,154.5 636.6,153.8" fill="#6d6963" stroke="#6d6963"/><polygon points="645.0,137.3 646.5,138.2 645.9,139.4 644.5,138.5" fill="#bcb8b2" stroke="#bcb8b2"/><polygon points="644.5,138.5 645.9,139.4 645.4,140.6 643.9,139.8" fill="#d1cdc7" stroke="#d1cdc7"/><polygon points="643.9,139.8 645.4,140.6 644.8,141.8 643.4,141.0" fill="#cdc9c3" stroke="#cdc9c3"/><polygon points="643.4,141.0 644.8,141.8 644.2,143.1 642.9,142.2" fill="#c9c5bf" stroke="#c9c5bf"/><polygon points="642.9,142.2 644.2,143.1 643.6,144.3 642.3,143.4" fill="#c2beb8" stroke="#c2beb8"/><polygon points="642.3,143.4 643.6,144.3 643.1,145.5 641.8,144.7" fill="#b7b3ad" stroke="#b7b3ad"/><polygon points="641.8,144.7 643.1,145.5 642.5,146.7 641.2,145.9" fill="#aba7a1" stroke="#aba7a1"/><polygon points="641.2,145.9 642.5,146.7 641.9,147.9 640.7,147.1" fill="#a09c96" stroke="#a09c96"/><polygon points="640.7,147.1 641.9,147.9 641.3,149.1 640.2,148.4" fill="#95918b" stroke="#95918b"/><polygon points="640.2,148.4 641.3,149.1 640.8,150.4 639.6,149.6" fill="#8a8680" stroke="#8a8680"/><polygon points="639.6,149.6 640.8,150.4 640.2,151.6 639.1,150.8" fill="#807c76" stroke="#807c76"/><polygon points="639.1,150.8 640.2,151.6 639.6,152.8 638.6,152.0" fill="#77736d" stroke="#77736d"/><polygon points="638.6,152.0 639.6,152.8 639.0,154.0 638.0,153.3" fill="#706c66" stroke="#706c66"/><polygon points="638.0,153.3 639.0,154.0 638.5,155.2 637.5,154.5" fill="#6b6761" stroke="#6b6761"/><polygon points="646.5,138.2 648.0,139.1 647.4,140.3 645.9,139.4" fill="#bcb8b2" stroke="#bcb8b2"/><polygon points="645.9,139.4 647.4,140.3 646.8,141.6 645.4,140.6" fill="#d1cdc7" stroke="#d1cdc7"/><polygon points="645.4,140.6 646.8,141.6 646.2,142.8 644.8,141.8" fill="#cdc9c3" stroke="#cdc9c3"/><polygon points="644.8,141.8 646.2,142.8 645.6,144.0 644.2,143.1" fill="#c9c5bf" stroke="#c9c5bf"/><polygon points="644.2,143.1 645.6,144.0 644.9,145.2 643.6,144.3" fill="#c2beb8" stroke="#c2beb8"/><polygon points="643.6,144.3 644.9,145.2 644.3,146.4 643.1,145.5" fill="#b7b3ad" stroke="#b7b3ad"/><polygon points="643.1,145.5 644.3,146.4 643.7,147.6 642.5,146.7" fill="#aba7a1" stroke="#aba7a1"/><polygon points="642.5,146.7 643.7,147.6 643.1,148.8 641.9,147.9" fill="#a09c96" stroke="#a09c96"/><polygon points="641.9,147.9 643.1,148.8 642.5,150.0 641.3,149.1" fill="#95918b" stroke="#95918b"/><polygon points="641.3,149.1 642.5,150.0 641.9,151.2 640.8,150.4" fill="#8a8680" stroke="#8a8680"/><polygon points="640.8,150.4 641.9,151.2 641.3,152.4 640.2,151.6" fill="#807c76" stroke="#807c76"/><polygon points="640.2,151.6 641.3,152.4 640.7,153.6 639.6,152.8" fill="#77736d" stroke="#77736d"/><polygon points="639.6,152.8 640.7,153.6 640.0,154.8 639.0,154.0" fill="#706c66" stroke="#706c66"/><polygon points="639.0,154.0 640.0,154.8 639.4,156.0 638.5,155.2" fill="#6b6761" stroke="#6b6761"/><polygon points="648.0,139.1 649.5,140.1 648.9,141.3 647.4,140.3" fill="#bcb8b2" stroke="#bcb8b2"/><polygon points="647.4,140.3 648.9,141.3 648.2,142.5 646.8,141.6" fill="#d1cdc7" stroke="#d1cdc7"/><polygon points="646.8,141.6 648.2,142.5 647.6,143.7 646.2,142.8" fill="#cdc9c3" stroke="#cdc9c3"/><polygon points="646.2,142.8 647.6,143.7 646.9,144.9 645.6,144.0" fill="#c9c5bf" stroke="#c9c5bf"/><polygon points="645.6,144.0 646.9,144.9 646.3,146.1 644.9,145.2" fill="#c2beb8" stroke="#c2beb8"/><polygon points="644.9,145.2 646.3,146.1 645.6,147.3 644.3,146.4" fill="#b7b3ad" stroke="#b7b3ad"/><polygon points="644.3,146.4 645.6,147.3 645.0,148.5 643.7,147.6" fill="#aba7a1" stroke="#aba7a1"/><polygon points="643.7,147.6 645.0,148.5 644.3,149.7 643.1,148.8" fill="#a09c96" stroke="#a09c96"/><polygon points="643.1,148.8 644.3,149.7 643.7,150.9 642.5,150.0" fill="#95918b" stroke="#95918b"/><polygon points="642.5,150.0 643.7,150.9 643.0,152.1 641.9,151.2" fill="#8a8680" stroke="#8a8680"/><polygon points="641.9,151.2 643.0,152.1 642.4,153.3 641.3,152.4" fill="#807c76" stroke="#807c76"/><polygon points="641.3,152.4 642.4,153.3 641.7,154.5 640.7,153.6" fill="#77736d" stroke="#77736d"/><polygon points="640.7,153.6 641.7,154.5 641.1,155.7 640.0,154.8" fill="#706c66" stroke="#706c66"/><polygon points="640.0,154.8 641.1,155.7 640.5,156.9 639.4,156.0" fill="#6b6761" stroke="#6b6761"/><polygon points="649.5,140.1 651.0,141.2 650.3,142.4 648.9,141.3" fill="#bcb8b2" stroke="#bcb8b2"/><polygon points="648.9,141.3 650.3,142.4 649.6,143.6 648.2,142.5" fill="#d1cdc7" stroke="#d1cdc7"/><polygon points="648.2,142.5 649.6,143.6 649.0,144.8 647.6,143.7" fill="#cdc9c3" stroke="#cdc9c3"/><polygon points="647.6,143.7 649.0,144.8 648.3,145.9 646.9,144.9" fill="#c9c5bf" stroke="#c9c5bf"/><polygon points="646.9,144.9 648.3,145.9 647.6,147.1 646.3,146.1" fill="#c2beb8" stroke="#c2beb8"/><polygon points="646.3,146.1 647.6,147.1 646.9,148.3 645.6,147.3" fill="#b7b3ad" stroke="#b7b3ad"/><polygon points="645.6,147.3 646.9,148.3 646.2,149.5 645.0,148.5" fill="#aba7a1" stroke="#aba7a1"/><polygon points="645.0,148.5 646.2,149.5 645.6,150.7 644.3,149.7" fill="#a09c96" stroke="#a09c96"/><polygon points="644.3,149.7 645.6,150.7 644.9,151.9 643.7,150.9" fill="#95918b" stroke="#95918b"/><polygon points="643.7,150.9 644.9,151.9 644.2,153.1 643.0,152.1" fill="#8a8680" stroke="#8a8680"/><polygon points="643.0,152.1 644.2,153.1 643.5,154.2 642.4,153.3" fill="#807c76" stroke="#807c76"/><polygon points="642.4,153.3 643.5,154.2 642.9,155.4 641.7,154.5" fill="#77736d" stroke="#77736d"/><polygon points="641.7,154.5 642.9,155.4 642.2,156.6 641.1,155.7" fill="#706c66" stroke="#706c66"/><polygon points="641.1,155.7 642.2,156.6 641.5,157.8 640.5,156.9" fill="#6b6761" stroke="#6b6761"/><polygon points="651.0,141.2 652.5,142.3 651.8,143.5 650.3,142.4" fill="#bcb8b2" stroke="#bcb8b2"/><polygon points="650.3,142.4 651.8,143.5 651.1,144.7 649.6,143.6" fill="#d1cdc7" stroke="#d1cdc7"/><polygon points="649.6,143.6 651.1,144.7 650.4,145.8 649.0,144.8" fill="#cdc9c3" stroke="#cdc9c3"/><polygon points="649.0,144.8 650.4,145.8 649.7,147.0 648.3,145.9" fill="#c9c5bf" stroke="#c9c5bf"/><polygon points="648.3,145.9 649.7,147.0 649.0,148.2 647.6,147.1" fill="#c2beb8" stroke="#c2beb8"/><polygon points="647.6,147.1 649.0,148.2 648.2,149.4 646.9,148.3" fill="#b7b3ad" stroke="#b7b3ad"/><polygon points="646.9,148.3 648.2,149.4 647.5,150.5 646.2,149.5" fill="#aba7a1" stroke="#aba7a1"/><polygon points="646.2,149.5 647.5,150.5 646.8,151.7 645.6,150.7" fill="#a09c96" stroke="#a09c96"/><polygon points="645.6,150.7 646.8,151.7 646.1,152.9 644.9,151.9" fill="#95918b" stroke="#95918b"/><polygon points="644.9,151.9 646.1,152.9 645.4,154.1 644.2,153.1" fill="#8a8680" stroke="#8a8680"/><polygon points="644.2,153.1 645.4,154.1 644.7,155.2 643.5,154.2" fill="#807c76" stroke="#807c76"/><polygon points="643.5,154.2 644.7,155.2 644.0,156.4 642.9,155.4" fill="#77736d" stroke="#77736d"/><polygon points="642.9,155.4 644.0,156.4 643.3,157.6 642.2,156.6" fill="#706c66" stroke="#706c66"/><polygon points="642.2,156.6 643.3,157.6 642.6,158.8 641.5,157.8" fill="#6b6761" stroke="#6b6761"/><polygon points="652.5,142.3 654.0,143.5 653.3,144.7 651.8,143.5" fill="#bcb8b2" stroke="#bcb8b2"/><polygon points="651.8,143.5 653.3,144.7 652.5,145.8 651.1,144.7" fill="#d1cdc7" stroke="#d1cdc7"/><polygon points="651.1,144.7 652.5,145.8 651.8,147.0 650.4,145.8" fill="#cdc9c3" stroke="#cdc9c3"/><polygon points="650.4,145.8 651.8,147.0 651.1,148.2 649.7,147.0" fill="#c9c5bf" stroke="#c9c5bf"/><polygon points="649.7,147.0 651.1,148.2 650.3,149.3 649.0,148.2" fill="#c2beb8" stroke="#c2beb8"/><polygon points="649.0,148.2 650.3,149.3 649.6,150.5 648.2,149.4" fill="#b7b3ad" stroke="#b7b3ad"/><polygon points="648.2,149.4 649.6,150.5 648.8,151.6 647.5,150.5" fill="#aba7a1" stroke="#aba7a1"/><polygon points="647.5,150.5 648.8,151.6 648.1,152.8 646.8,151.7" fill="#a09c96" stroke="#a09c96"/><polygon points="646.8,151.7 648.1,152.8 647.4,154.0 646.1,152.9" fill="#95918b" stroke="#95918b"/><polygon points="646.1,152.9 647.4,154.0 646.6,155.1 645.4,154.1" fill="#8a8680" stroke="#8a8680"/><polygon points="645.4,154.1 646.6,155.1 645.9,156.3 644.7,155.2" fill="#807c76" stroke="#807c76"/><polygon points="644.7,155.2 645.9,156.3 645.2,157.5 644.0,156.4" fill="#77736d" stroke="#77736d"/><polygon points="644.0,156.4 645.2,157.5 644.4,158.6 643.3,157.6" fill="#706c66" stroke="#706c66"/><polygon points="643.3,157.6 644.4,158.6 643.7,159.8 642.6,158.8" fill="#6b6761" stroke="#6b6761"/><polygon points="654.0,143.5 655.5,144.7 654.7,145.9 653.3,144.7" fill="#bcb8b2" stroke="#bcb8b2"/><polygon points="653.3,144.7 654.7,145.9 654.0,147.0 652.5,145.8" fill="#d1cdc7" stroke="#d1cdc7"/><polygon points="652.5,145.8 654.0,147.0 653.2,148.2 651.8,147.0" fill="#cdc9c3" stroke="#cdc9c3"/><polygon points="651.8,147.0 653.2,148.2 652.5,149.3 651.1,148.2" fill="#c9c5bf" stroke="#c9c5bf"/><polygon points="651.1,148.2 652.5,149.3 651.7,150.5 650.3,149.3" fill="#c2beb8" stroke="#c2beb8"/><polygon points="650.3,149.3 651.7,150.5 650.9,151.6 649.6,150.5" fill="#b7b3ad" stroke="#b7b3ad"/><polygon points="649.6,150.5 650.9,151.6 650.2,152.8 648.8,151.6" fill="#aba7a1" stroke="#aba7a1"/><polygon points="648.8,151.6 650.2,152.8 649.4,154.0 648.1,152.8" fill="#a09c96" stroke="#a09c96"/><polygon points="648.1,152.8 649.4,154.0 648.6,155.1 647.4,154.0" fill="#95918b" stroke="#95918b"/><polygon points="647.4,154.0 648.6,155.1 647.9,156.3 646.6,155.1" fill="#8a8680" stroke="#8a8680"/><polygon points="646.6,155.1 647.9,156.3 647.1,157.4 645.9,156.3" fill="#807c76" stroke="#807c76"/><polygon points="645.9,156.3 647.1,157.4 646.4,158.6 645.2,157.5" fill="#77736d" stroke="#77736d"/><polygon points="645.2,157.5 646.4,158.6 645.6,159.7 644.4,158.6" fill="#706c66" stroke="#706c66"/><polygon points="644.4,158.6 645.6,159.7 644.8,160.9 643.7,159.8" fill="#6b6761" stroke="#6b6761"/><polygon points="655.5,144.7 657.0,146.0 656.2,147.1 654.7,145.9" fill="#bcb8b2" stroke="#bcb8b2"/><polygon points="654.7,145.9 656.2,147.1 655.4,148.3 654.0,147.0" fill="#d1cdc7" stroke="#d1cdc7"/><polygon points="654.0,147.0 655.4,148.3 654.6,149.4 653.2,148.2" fill="#cdc9c3" stroke="#cdc9c3"/><polygon points="653.2,148.2 654.6,149.4 653.9,150.6 652.5,149.3" fill="#c9c5bf" stroke="#c9c5bf"/><polygon points="652.5,149.3 653.9,150.6 653.1,151.7 651.7,150.5" fill="#c2beb8" stroke="#c2beb8"/><polygon points="651.7,150.5 653.1,151.7 652.3,152.9 650.9,151.6" fill="#b7b3ad" stroke="#b7b3ad"/><polygon points="650.9,151.6 652.3,152.9 651.5,154.0 650.2,152.8" fill="#aba7a1" stroke="#aba7a1"/><polygon points="650.2,152.8 651.5,154.0 650.7,155.1 649.4,154.0" fill="#a09c96" stroke="#a09c96"/><polygon points="649.4,154.0 650.7,155.1 649.9,156.3 648.6,155.1" fill="#95918b" stroke="#95918b"/><polygon points="648.6,155.1 649.9,156.3 649.1,157.4 647.9,156.3" fill="#8a8680" stroke="#8a8680"/><polygon points="647.9,156.3 649.1,157.4 648.4,158.6 647.1,157.4" fill="#807c76" stroke="#807c76"/><polygon points="647.1,157.4 648.4,158.6 647.6,159.7 646.4,158.6" fill="#77736d" stroke="#77736d"/><polygon points="646.4,158.6 647.6,159.7 646.8,160.9 645.6,159.7" fill="#706c66" stroke="#706c66"/><polygon points="645.6,159.7 646.8,160.9 646.0,162.0 644.8,160.9" fill="#6b6761" stroke="#6b6761"/><polygon points="657.0,146.0 658.5,147.3 657.7,148.5 656.2,147.1" fill="#bcb8b2" stroke="#bcb8b2"/><polygon points="656.2,147.1 657.7,148.5 656.9,149.6 655.4,148.3" fill="#d1cdc7" stroke="#d1cdc7"/><polygon points="655.4,148.3 656.9,149.6 656.1,150.7 654.6,149.4" fill="#cdc9c3" stroke="#cdc9c3"/><polygon points="654.6,149.4 656.1,150.7 655.3,151.9 653.9,150.6" fill="#c9c5bf" stroke="#c9c5bf"/><polygon points="653.9,150.6 655.3,151.9 654.5,153.0 653.1,151.7" fill="#c2beb8" stroke="#c2beb8"/><polygon points="653.1,151.7 654.5,153.0 653.7,154.1 652.3,152.9" fill="#b7b3ad" stroke="#b7b3ad"/><polygon points="652.3,152.9 653.7,154.1 652.9,155.3 651.5,154.0" fill="#aba7a1" stroke="#aba7a1"/><polygon points="651.5,154.0 652.9,155.3 652.1,156.4 650.7,155.1" fill="#a09c96" stroke="#a09c96"/><polygon points="650.7,155.1 652.1,156.4 651.3,157.5 649.9,156.3" fill="#95918b" stroke="#95918b"/><polygon points="649.9,156.3 651.3,157.5 650.4,158.7 649.1,157.4" fill="#8a8680" stroke="#8a8680"/><polygon points="649.1,157.4 650.4,158.7 649.6,159.8 648.4,158.6" fill="#807c76" stroke="#807c76"/><polygon points="648.4,158.6 649.6,159.8 648.8,160.9 647.6,159.7" fill="#77736d" stroke="#77736d"/><polygon points="647.6,159.7 648.8,160.9 648.0,162.1 646.8,160.9" fill="#706c66" stroke="#706c66"/><polygon points="646.8,160.9 648.0,162.1 647.2,163.2 646.0,162.0" fill="#6b6761" stroke="#6b6761"/><polygon points="658.5,147.3 660.1,148.7 659.2,149.9 657.7,148.5" fill="#bcb8b2" stroke="#bcb8b2"/><polygon points="657.7,148.5 659.2,149.9 658.4,151.0 656.9,149.6" fill="#d1cdc7" stroke="#d1cdc7"/><polygon points="656.9,149.6 658.4,151.0 657.6,152.1 656.1,150.7" fill="#cdc9c3" stroke="#cdc9c3"/><polygon points="656.1,150.7 657.6,152.1 656.8,153.2 655.3,151.9" fill="#c9c5bf" stroke="#c9c5bf"/><polygon points="655.3,151.9 656.8,153.2 655.9,154.3 654.5,153.0" fill="#c2beb8" stroke="#c2beb8"/><polygon points="654.5,153.0 655.9,154.3 655.1,155.5 653.7,154.1" fill="#b7b3ad" stroke="#b7b3ad"/><polygon points="653.7,154.1 655.1,155.5 654.3,156.6 652.9,155.3" fill="#aba7a1" stroke="#aba7a1"/><polygon points="652.9,155.3 654.3,156.6 653.4,157.7 652.1,156.4" fill="#a09c96" stroke="#a09c96"/><polygon points="652.1,156.4 653.4,157.7 652.6,158.8 651.3,157.5" fill="#95918b" stroke="#95918b"/><polygon points="651.3,157.5 652.6,158.8 651.8,160.0 650.4,158.7" fill="#8a8680" stroke="#8a8680"/><polygon points="650.4,158.7 651.8,160.0 651.0,161.1 649.6,159.8" fill="#807c76" stroke="#807c76"/><polygon points="649.6,159.8 651.0,161.1 650.1,162.2 648.8,160.9" fill="#77736d" stroke="#77736d"/><polygon points="648.8,160.9 650.1,162.2 649.3,163.3 648.0,162.1" fill="#706c66" stroke="#706c66"/><polygon points="648.0,162.1 649.3,163.3 648.5,164.4 647.2,163.2" fill="#6b6761" stroke="#6b6761"/><polygon points="660.1,148.7 661.6,150.1 660.7,151.3 659.2,149.9" fill="#bcb8b2" stroke="#bcb8b2"/><polygon points="659.2,149.9 660.7,151.3 659.9,152.4 658.4,151.0" fill="#d1cdc7" stroke="#d1cdc7"/><polygon points="658.4,151.0 659.9,152.4 659.0,153.5 657.6,152.1" fill="#cdc9c3" stroke="#cdc9c3"/><polygon points="657.6,152.1 659.0,153.5 658.2,154.6 656.8,153.2" fill="#c9c5bf" stroke="#c9c5bf"/><polygon points="656.8,153.2 658.2,154.6 657.3,155.7 655.9,154.3" fill="#c2beb8" stroke="#c2beb8"/><polygon points="655.9,154.3 657.3,155.7 656.5,156.8 655.1,155.5" fill="#b7b3ad" stroke="#b7b3ad"/><polygon points="655.1,155.5 656.5,156.8 655.7,157.9 654.3,156.6" fill="#aba7a1" stroke="#aba7a1"/><polygon points="654.3,156.6 655.7,157.9 654.8,159.1 653.4,157.7" fill="#a09c96" stroke="#a09c96"/><polygon points="653.4,157.7 654.8,159.1 654.0,160.2 652.6,158.8" fill="#95918b" stroke="#95918b"/><polygon points="652.6,158.8 654.0,160.2 653.1,161.3 651.8,160.0" fill="#8a8680" stroke="#8a8680"/><polygon points="651.8,160.0 653.1,161.3 652.3,162.4 651.0,161.1" fill="#807c76" stroke="#807c76"/><polygon points="651.0,161.1 652.3,162.4 651.4,163.5 650.1,162.2" fill="#77736d" stroke="#77736d"/><polygon points="650.1,162.2 651.4,163.5 650.6,164.6 649.3,163.3" fill="#706c66" stroke="#706c66"/><polygon points="649.3,163.3 650.6,164.6 649.7,165.7 648.5,164.4" fill="#6b6761" stroke="#6b6761"/><polygon points="661.6,150.1 663.0,151.5 662.1,152.6 660.7,151.3" fill="#bcb8b2" stroke="#bcb8b2"/><polygon points="660.7,151.3 662.1,152.6 661.3,153.7 659.9,152.4" fill="#d1cdc7" stroke="#d1cdc7"/><polygon points="659.9,152.4 661.3,153.7 660.4,154.8 659.0,153.5" fill="#cdc9c3" stroke="#cdc9c3"/><polygon points="659.0,153.5 660.4,154.8 659.6,155.9 658.2,154.6" fill="#c9c5bf" stroke="#c9c5bf"/><polygon points="658.2,154.6 659.6,155.9 658.7,157.0 657.3,155.7" fill="#c2beb8" stroke="#c2beb8"/><polygon points="657.3,155.7 658.7,157.0 657.9,158.1 656.5,156.8" fill="#b7b3ad" stroke="#b7b3ad"/><polygon points="656.5,156.8 657.9,158.1 657.0,159.2 655.7,157.9" fill="#aba7a1" stroke="#aba7a1"/><polygon points="655.7,157.9 657.0,159.2 656.1,160.4 654.8,159.1" fill="#a09c96" stroke="#a09c96"/><polygon points="654.8,159.1 656.1,160.4 655.3,161.5 654.0,160.2" fill="#95918b" stroke="#95918b"/><polygon points="654.0,160.2 655.3,161.5 654.4,162.6 653.1,161.3" fill="#8a8680" stroke="#8a8680"/><polygon points="653.1,161.3 654.4,162.6 653.6,163.7 652.3,162.4" fill="#807c76" stroke="#807c76"/><polygon points="652.3,162.4 653.6,163.7 652.7,164.8 651.4,163.5" fill="#77736d" stroke="#77736d"/><polygon points="651.4,163.5 652.7,164.8 651.9,165.9 650.6,164.6" fill="#706c66" stroke="#706c66"/><polygon points="650.6,164.6 651.9,165.9 651.0,167.0 649.7,165.7" fill="#6b6761" stroke="#6b6761"/><polygon points="663.0,151.5 664.3,152.8 663.5,153.9 662.1,152.6" fill="#bcb8b2" stroke="#bcb8b2"/><polygon points="662.1,152.6 663.5,153.9 662.6,155.0 661.3,153.7" fill="#d1cdc7" stroke="#d1cdc7"/><polygon points="661.3,153.7 662.6,155.0 661.7,156.1 660.4,154.8" fill="#cdc9c3" stroke="#cdc9c3"/><polygon points="660.4,154.8 661.7,156.1 660.9,157.2 659.6,155.9" fill="#c9c5bf" stroke="#c9c5bf"/><polygon points="659.6,155.9 660.9,157.2 660.0,158.3 658.7,157.0" fill="#c2beb8" stroke="#c2beb8"/><polygon points="658.7,157.0 660.0,158.3 659.1,159.4 657.9,158.1" fill="#b7b3ad" stroke="#b7b3ad"/><polygon points="657.9,158.1 659.1,159.4 658.3,160.5 657.0,159.2" fill="#aba7a1" stroke="#aba7a1"/><polygon points="657.0,159.2 658.3,160.5 657.4,161.6 656.1,160.4" fill="#a09c96" stroke="#a09c96"/><polygon points="656.1,160.4 657.4,161.6 656.6,162.7 655.3,161.5" fill="#95918b" stroke="#95918b"/><polygon points="655.3,161.5 656.6,162.7 655.7,163.8 654.4,162.6" fill="#8a8680" stroke="#8a8680"/><polygon points="654.4,162.6 655.7,163.8 654.8,164.9 653.6,163.7" fill="#807c76" stroke="#807c76"/><polygon points="653.6,163.7 654.8,164.9 654.0,166.0 652.7,164.8" fill="#77736d" stroke="#77736d"/><polygon points="652.7,164.8 654.0,166.0 653.1,167.1 651.9,165.9" fill="#706c66" stroke="#706c66"/><polygon points="651.9,165.9 653.1,167.1 652.2,168.2 651.0,167.0" fill="#6b6761" stroke="#6b6761"/><polygon points="664.3,152.8 665.6,154.0 664.7,155.1 663.5,153.9" fill="#bcb8b2" stroke="#bcb8b2"/><polygon points="663.5,153.9 664.7,155.1 663.8,156.2 662.6,155.0" fill="#d1cdc7" stroke="#d1cdc7"/><polygon points="662.6,155.0 663.8,156.2 663.0,157.3 661.7,156.1" fill="#cdc9c3" stroke="#cdc9c3"/><polygon points="661.7,156.1 663.0,157.3 662.1,158.5 660.9,157.2" fill="#c9c5bf" stroke="#c9c5bf"/><polygon points="660.9,157.2 662.1,158.5 661.3,159.6 660.0,158.3" fill="#c2beb8" stroke="#c2beb8"/><polygon points="660.0,158.3 661.3,159.6 660.4,160.7 659.1,159.4" fill="#b7b3ad" stroke="#b7b3ad"/><polygon points="659.1,159.4 660.4,160.7 659.5,161.8 658.3,160.5" fill="#aba7a1" stroke="#aba7a1"/><polygon points="658.3,160.5 659.5,161.8 658.7,162.9 657.4,161.6" fill="#a09c96" stroke="#a09c96"/><polygon points="657.4,161.6 658.7,162.9 657.8,164.0 656.6,162.7" fill="#95918b" stroke="#95918b"/><polygon points="656.6,162.7 657.8,164.0 656.9,165.1 655.7,163.8" fill="#8a8680" stroke="#8a8680"/><polygon points="655.7,163.8 656.9,165.1 656.1,166.2 654.8,164.9" fill="#807c76" stroke="#807c76"/><polygon points="654.8,164.9 656.1,166.2 655.2,167.3 654.0,166.0" fill="#77736d" stroke="#77736d"/><polygon points="654.0,166.0 655.2,167.3 654.4,168.4 653.1,167.1" fill="#706c66" stroke="#706c66"/><polygon points="653.1,167.1 654.4,168.4 653.5,169.5 652.2,168.2" fill="#6b6761" stroke="#6b6761"/><polygon points="665.6,154.0 666.8,155.3 665.9,156.4 664.7,155.1" fill="#bcb8b2" stroke="#bcb8b2"/><polygon points="664.7,155.1 665.9,156.4 665.1,157.5 663.8,156.2" fill="#d1cdc7" stroke="#d1cdc7"/><polygon points="663.8,156.2 665.1,157.5 664.2,158.6 663.0,157.3" fill="#cdc9c3" stroke="#cdc9c3"/><polygon points="663.0,157.3 664.2,158.6 663.3,159.7 662.1,158.5" fill="#c9c5bf" stroke="#c9c5bf"/><polygon points="662.1,158.5 663.3,159.7 662.5,160.8 661.3,159.6" fill="#c2beb8" stroke="#c2beb8"/><polygon points="661.3,159.6 662.5,160.8 661.6,161.9 660.4,160.7" fill="#b7b3ad" stroke="#b7b3ad"/><polygon points="660.4,160.7 661.6,161.9 660.8,163.0 659.5,161.8" fill="#aba7a1" stroke="#aba7a1"/><polygon points="659.5,161.8 660.8,163.0 659.9,164.1 658.7,162.9" fill="#a09c96" stroke="#a09c96"/><polygon points="658.7,162.9 659.9,164.1 659.0,165.2 657.8,164.0" fill="#95918b" stroke="#95918b"/><polygon points="657.8,164.0 659.0,165.2 658.2,166.3 656.9,165.1" fill="#8a8680" stroke="#8a8680"/><polygon points="656.9,165.1 658.2,166.3 657.3,167.4 656.1,166.2" fill="#807c76" stroke="#807c76"/><polygon points="656.1,166.2 657.3,167.4 656.5,168.5 655.2,167.3" fill="#77736d" stroke="#77736d"/><polygon points="655.2,167.3 656.5,168.5 655.6,169.6 654.4,168.4" fill="#706c66" stroke="#706c66"/><polygon points="654.4,168.4 655.6,169.6 654.8,170.8 653.5,169.5" fill="#6b6761" stroke="#6b6761"/><polygon points="666.8,155.3 668.0,156.5 667.1,157.6 665.9,156.4" fill="#bcb8b2" stroke="#bcb8b2"/><polygon points="665.9,156.4 667.1,157.6 666.3,158.7 665.1,157.5" fill="#d1cdc7" stroke="#d1cdc7"/><polygon points="665.1,157.5 666.3,158.7 665.4,159.8 664.2,158.6" fill="#cdc9c3" stroke="#cdc9c3"/><polygon points="664.2,158.6 665.4,159.8 664.6,160.9 663.3,159.7" fill="#c9c5bf" stroke="#c9c5bf"/><polygon points="663.3,159.7 664.6,160.9 663.7,162.0 662.5,160.8" fill="#c2beb8" stroke="#c2beb8"/><polygon points="662.5,160.8 663.7,162.0 662.9,163.1 661.6,161.9" fill="#b7b3ad" stroke="#b7b3ad"/><polygon points="661.6,161.9 662.9,163.1 662.0,164.2 660.8,163.0" fill="#aba7a1" stroke="#aba7a1"/><polygon points="660.8,163.0 662.0,164.2 661.1,165.4 659.9,164.1" fill="#a09c96" stroke="#a09c96"/><polygon points="659.9,164.1 661.1,165.4 660.3,166.5 659.0,165.2" fill="#95918b" stroke="#95918b"/><polygon points="659.0,165.2 660.3,166.5 659.4,167.6 658.2,166.3" fill="#8a8680" stroke="#8a8680"/><polygon points="658.2,166.3 659.4,167.6 658.6,168.7 657.3,167.4" fill="#807c76" stroke="#807c76"/><polygon points="657.3,167.4 658.6,168.7 657.7,169.8 656.5,168.5" fill="#77736d" stroke="#77736d"/><polygon points="656.5,168.5 657.7,169.8 656.9,170.9 655.6,169.6" fill="#706c66" stroke="#706c66"/><polygon points="655.6,169.6 656.9,170.9 656.0,172.0 654.8,170.8" fill="#6b6761" stroke="#6b6761"/>
</g>
<defs><linearGradient id="gG" gradientUnits="userSpaceOnUse" x1="156.8" y1="292.0" x2="362.7" y2="224.0"><stop offset="0" stop-color="#726d67" stop-opacity="0.95"/><stop offset="0.3" stop-color="#7a756f" stop-opacity="0.6"/><stop offset="1" stop-color="#8a857f" stop-opacity="0"/></linearGradient></defs><path d="M156.8 292.0L362.7 224.0" stroke="url(#gG)" stroke-width="1.9" stroke-linecap="round" fill="none"/>
<g><path d="M606 138.6 Q622 132.6 630 133.4 Q642 135.2 652 143.6" fill="none" stroke="#e6e4df" stroke-width="2.2" stroke-linecap="round" opacity="0.9"/><ellipse transform="translate(620.8 139.9) rotate(-18)" rx="2.6" ry="1.2" fill="#5e5953"/><ellipse transform="translate(615.5 143.0) rotate(-18)" rx="4" ry="0.9" fill="#8a857f"/><ellipse transform="translate(638.6 143.3) rotate(35)" rx="1.8" ry="1.2" fill="#5e5953"/><ellipse transform="translate(630.2 146.6) rotate(20)" rx="3.2" ry="1.8" fill="#f1efeb"/><path d="M626 141.5 Q632 141 637 145 L645 152" fill="none" stroke="#e0ddd8" stroke-width="1.6" stroke-linecap="round" opacity="0.8"/><path d="M634 146.5 L646 156.5" fill="none" stroke="#7d7872" stroke-width="1.2" stroke-linecap="round" opacity="0.8"/></g>
<defs><linearGradient id="dlr" x1="0.3" y1="0" x2="0.1" y2="1"><stop offset="0" stop-color="#c8c4be"/><stop offset="0.4" stop-color="#afaba5"/><stop offset="0.75" stop-color="#6e6a64"/><stop offset="1" stop-color="#827e78"/></linearGradient><linearGradient id="dlf" x1="0" y1="1" x2="1" y2="0"><stop offset="0" stop-color="#827e78"/><stop offset="1" stop-color="#9c9892"/></linearGradient><linearGradient id="dls" x1="0" y1="0" x2="1" y2="1"><stop offset="0" stop-color="#c9c5bf"/><stop offset="0.5" stop-color="#b5b1ab"/><stop offset="1" stop-color="#a19d97"/></linearGradient></defs><g transform="rotate(-60)" fill="url(#dlr)"></g><ellipse cx="156.95" cy="331.20" rx="15.8" ry="15.1" transform="rotate(-60 156.95 331.20)" fill="url(#dlr)"/><ellipse cx="157.90" cy="331.98" rx="15.8" ry="15.1" transform="rotate(-60 157.90 331.98)" fill="url(#dlr)"/><ellipse cx="158.83" cy="332.74" rx="15.8" ry="15.1" transform="rotate(-60 158.83 332.74)" fill="url(#dlr)"/><ellipse cx="159.75" cy="333.50" rx="15.4" ry="14.7" transform="rotate(-60 159.75 333.50)" fill="url(#dlf)" stroke="url(#dls)" stroke-width="0.9"/>
<defs><linearGradient id="drr" x1="0.3" y1="0" x2="0.1" y2="1"><stop offset="0" stop-color="#d0ccc6"/><stop offset="0.4" stop-color="#b7b3ad"/><stop offset="0.75" stop-color="#74706a"/><stop offset="1" stop-color="#88847e"/></linearGradient><linearGradient id="drf" x1="0" y1="1" x2="1" y2="0"><stop offset="0" stop-color="#86827c"/><stop offset="1" stop-color="#a09c96"/></linearGradient><linearGradient id="drs" x1="0" y1="0" x2="1" y2="1"><stop offset="0" stop-color="#cdc9c3"/><stop offset="0.5" stop-color="#b9b5af"/><stop offset="1" stop-color="#a5a19b"/></linearGradient></defs><g transform="rotate(-50)" fill="url(#drr)"></g><ellipse cx="662.10" cy="162.70" rx="15.6" ry="13.4" transform="rotate(-50 662.10 162.70)" fill="url(#drr)"/><ellipse cx="662.92" cy="163.35" rx="15.6" ry="13.4" transform="rotate(-50 662.92 163.35)" fill="url(#drr)"/><ellipse cx="663.71" cy="163.97" rx="15.6" ry="13.4" transform="rotate(-50 663.71 163.97)" fill="url(#drr)"/><ellipse cx="664.50" cy="164.60" rx="15.2" ry="13.0" transform="rotate(-50 664.50 164.60)" fill="url(#drf)" stroke="url(#drs)" stroke-width="0.9"/>
<path d="M126.13 238.92L641.47 76.98M135.44 243.07L125.74 239.04L131.40 230.19M632.16 72.83L641.86 76.86L636.20 85.71M120.25 225.60L120.25 308.75M646.80 64.00L646.80 128.50M223.22 392.20L721.98 227.20M232.60 396.20L222.84 392.32L228.36 383.39M712.60 223.20L722.36 227.08L716.84 236.01M159.30 333.00L224.50 405.00M664.25 164.75L734.30 232.25M83.10 302.50L131.25 287.75M82.50 331.90L124.75 319.40M99.75 278.00L99.75 290.65M106.57 283.74L99.75 291.05L92.93 283.74M99.75 345.60L99.75 333.10M92.93 340.01L99.75 332.70L106.57 340.01M140.25 351.00L140.25 409.20M179.70 340.50L179.70 395.25M146.26 395.17L174.29 385.28M154.78 398.64L145.88 395.30L150.71 387.12M165.77 381.81L174.67 385.15L169.84 393.33M627.50 123.00L698.50 99.00M686.25 157.50L739.75 138.40M691.79 107.57L725.71 138.03M692.55 117.25L691.49 107.30L701.49 107.29M724.95 128.35L726.01 138.30L716.01 138.31M597.00 174.00L649.80 154.90M602.25 206.00L651.70 187.00M610.50 175.60L610.50 196.40M603.78 181.92L610.50 175.20L617.22 181.92M617.22 190.08L610.50 196.80L603.78 190.08" fill="none" stroke="#0d0d0d" stroke-width="2.4" stroke-linecap="butt" stroke-linejoin="miter"/>
<circle cx="159" cy="333" r="2.4" fill="#111"/><circle cx="664.2" cy="164.7" r="2.2" fill="#111"/>
<text class="lab" style="font-size:38.5px" transform="translate(360.88 149) scale(0.9619 1)" letter-spacing="0.000">L</text>
<text class="lab" style="font-size:40.2px" transform="translate(462.22 347.9) scale(0.9778 1)" letter-spacing="0.000">C</text>
<text class="lab" style="font-size:38.5px" transform="translate(35.50 338) scale(1.1351 1)" letter-spacing="0.000">W</text>
<text class="lab" style="font-size:38.5px" transform="translate(151.73 435.75) scale(1.0091 1)" letter-spacing="0.000">BL</text>
<text class="lab" style="font-size:38.5px" transform="translate(713.37 116) scale(0.9413 1)" letter-spacing="0.000">P</text>
<text class="lab" style="font-size:38.5px" transform="translate(525.09 221.7) scale(1.0800 1)" letter-spacing="0.391">BW</text>

<text class="b" transform="translate(130.50 516.3) scale(1.0000 1)" letter-spacing="0.000">L</text>
<text class="r" transform="translate(162.72 516.3) scale(1.1400 1)" letter-spacing="1.423">(Length)</text>
<text class="b" transform="translate(328.95 516.3) scale(1.0450 1)" letter-spacing="0.413">= 19-1/16in</text>
<text class="r" transform="translate(514.47 516.3) scale(1.1400 1)" letter-spacing="1.984">(484mm)</text>
<text class="b" transform="translate(169.50 561.8) scale(1.0469 1)" letter-spacing="0.000">W</text>
<text class="r" transform="translate(215.22 561.8) scale(1.1400 1)" letter-spacing="2.272">(Width)</text>
<text class="b" transform="translate(366.46 561.8) scale(1.0441 1)" letter-spacing="0.000">= 11/16in</text>
<text class="r" transform="translate(514.47 561.8) scale(1.1383 1)" letter-spacing="0.000">(17mm)</text>
<text class="b" transform="translate(130.55 607.3) scale(0.9750 1)" letter-spacing="0.000">P</text>
<text class="r" transform="translate(162.72 607.3) scale(1.1400 1)" letter-spacing="1.163">(Projection)</text>
<text class="b" transform="translate(385.20 607.3) scale(1.0450 1)" letter-spacing="1.465">= 2-1/8in</text>
<text class="r" transform="translate(539.72 607.3) scale(1.1400 1)" letter-spacing="1.677">(54mm)</text>
<text class="b" transform="translate(86.05 652.8) scale(0.9457 1)" letter-spacing="0.000">C</text>
<text class="r" transform="translate(122.22 652.8) scale(1.1400 1)" letter-spacing="0.858">(Center-to-Center)</text>
<text class="b" transform="translate(463.46 652.8) scale(1.0354 1)" letter-spacing="0.000">= 18in</text>
<text class="r" transform="translate(563.97 652.8) scale(1.1400 1)" letter-spacing="1.472">(457mm)</text>
<text class="b" transform="translate(96.79 698.3) scale(0.9777 1)" letter-spacing="0.000">BL</text>
<text class="r" transform="translate(152.72 698.3) scale(1.1400 1)" letter-spacing="0.727">(Base Length)</text>
<text class="b" transform="translate(415.96 698.3) scale(1.0369 1)" letter-spacing="0.000">= 1-1/16in</text>
<text class="r" transform="translate(576.47 698.3) scale(1.1400 1)" letter-spacing="1.326">(27mm)</text>
<text class="b" transform="translate(96.67 743.8) scale(1.0380 1)" letter-spacing="0.000">BW</text>
<text class="r" transform="translate(170.22 743.8) scale(1.1400 1)" letter-spacing="0.928">(Base Width)</text>
<text class="b" transform="translate(415.96 743.8) scale(1.0369 1)" letter-spacing="0.000">= 1-1/16in</text>
<text class="r" transform="translate(576.47 743.8) scale(1.1400 1)" letter-spacing="1.326">(27mm)</text>

</svg>
</body></html>
